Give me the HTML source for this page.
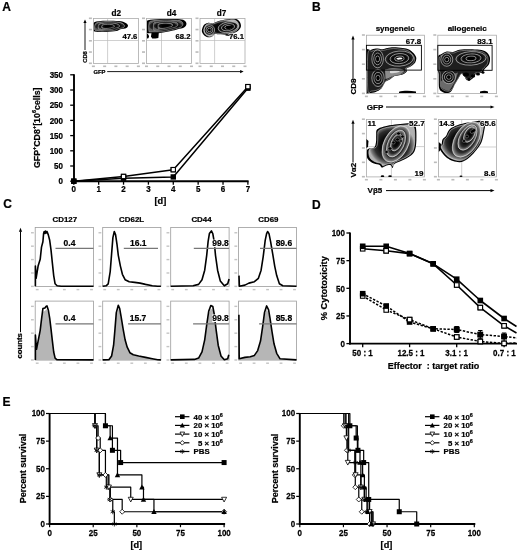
<!DOCTYPE html>
<html><head><meta charset="utf-8"><style>
html,body{margin:0;padding:0;background:#fff;width:520px;height:553px;overflow:hidden}
svg{display:block;filter:blur(0.35px)}
text{font-family:"Liberation Sans", sans-serif;stroke:#000;stroke-width:0.22px}
</style></head><body>
<svg width="520" height="553" viewBox="0 0 520 553" font-family='"Liberation Sans", sans-serif'>
<rect x="0" y="0" width="520" height="553" fill="#fff"/>
<text x="2.20" y="10.50" font-size="12" font-weight="bold" text-anchor="start" fill="#000">A</text>
<text x="312.00" y="10.90" font-size="12" font-weight="bold" text-anchor="start" fill="#000">B</text>
<text x="3.20" y="208.40" font-size="12" font-weight="bold" text-anchor="start" fill="#000">C</text>
<text x="312.00" y="208.50" font-size="12" font-weight="bold" text-anchor="start" fill="#000">D</text>
<text x="2.40" y="405.80" font-size="12" font-weight="bold" text-anchor="start" fill="#000">E</text>
<rect x="93.40" y="18.50" width="45.00" height="45.00" stroke="#ababab" stroke-width="0.8" fill="none"/>
<line x1="107.60" y1="18.50" x2="107.60" y2="63.50" stroke="#bcbcbc" stroke-width="0.7"/>
<line x1="93.40" y1="40.50" x2="138.40" y2="40.50" stroke="#bcbcbc" stroke-width="0.7"/>
<rect x="88.90" y="62.50" width="3" height="1.6" fill="#bbb"/>
<rect x="91.90" y="65.50" width="3" height="1.6" fill="#bbb"/>
<rect x="88.90" y="51.25" width="3" height="1.6" fill="#bbb"/>
<rect x="103.15" y="65.50" width="3" height="1.6" fill="#bbb"/>
<rect x="88.90" y="40.00" width="3" height="1.6" fill="#bbb"/>
<rect x="114.40" y="65.50" width="3" height="1.6" fill="#bbb"/>
<rect x="88.90" y="28.75" width="3" height="1.6" fill="#bbb"/>
<rect x="125.65" y="65.50" width="3" height="1.6" fill="#bbb"/>
<rect x="88.90" y="17.50" width="3" height="1.6" fill="#bbb"/>
<rect x="136.90" y="65.50" width="3" height="1.6" fill="#bbb"/>
<text x="116.20" y="15.50" font-size="8.2" font-weight="bold" text-anchor="middle" fill="#000">d2</text>
<rect x="146.50" y="18.50" width="45.00" height="45.00" stroke="#ababab" stroke-width="0.8" fill="none"/>
<line x1="161.50" y1="18.50" x2="161.50" y2="63.50" stroke="#bcbcbc" stroke-width="0.7"/>
<line x1="146.50" y1="40.50" x2="191.50" y2="40.50" stroke="#bcbcbc" stroke-width="0.7"/>
<rect x="142.00" y="62.50" width="3" height="1.6" fill="#bbb"/>
<rect x="145.00" y="65.50" width="3" height="1.6" fill="#bbb"/>
<rect x="142.00" y="51.25" width="3" height="1.6" fill="#bbb"/>
<rect x="156.25" y="65.50" width="3" height="1.6" fill="#bbb"/>
<rect x="142.00" y="40.00" width="3" height="1.6" fill="#bbb"/>
<rect x="167.50" y="65.50" width="3" height="1.6" fill="#bbb"/>
<rect x="142.00" y="28.75" width="3" height="1.6" fill="#bbb"/>
<rect x="178.75" y="65.50" width="3" height="1.6" fill="#bbb"/>
<rect x="142.00" y="17.50" width="3" height="1.6" fill="#bbb"/>
<rect x="190.00" y="65.50" width="3" height="1.6" fill="#bbb"/>
<text x="171.50" y="15.50" font-size="8.2" font-weight="bold" text-anchor="middle" fill="#000">d4</text>
<rect x="200.00" y="18.50" width="45.00" height="45.00" stroke="#ababab" stroke-width="0.8" fill="none"/>
<line x1="214.60" y1="18.50" x2="214.60" y2="63.50" stroke="#bcbcbc" stroke-width="0.7"/>
<line x1="200.00" y1="40.50" x2="245.00" y2="40.50" stroke="#bcbcbc" stroke-width="0.7"/>
<rect x="195.50" y="62.50" width="3" height="1.6" fill="#bbb"/>
<rect x="198.50" y="65.50" width="3" height="1.6" fill="#bbb"/>
<rect x="195.50" y="51.25" width="3" height="1.6" fill="#bbb"/>
<rect x="209.75" y="65.50" width="3" height="1.6" fill="#bbb"/>
<rect x="195.50" y="40.00" width="3" height="1.6" fill="#bbb"/>
<rect x="221.00" y="65.50" width="3" height="1.6" fill="#bbb"/>
<rect x="195.50" y="28.75" width="3" height="1.6" fill="#bbb"/>
<rect x="232.25" y="65.50" width="3" height="1.6" fill="#bbb"/>
<rect x="195.50" y="17.50" width="3" height="1.6" fill="#bbb"/>
<rect x="243.50" y="65.50" width="3" height="1.6" fill="#bbb"/>
<text x="221.50" y="15.50" font-size="8.2" font-weight="bold" text-anchor="middle" fill="#000">d7</text>
<defs>
<radialGradient id="ga" cx="0.5" cy="0.5" r="0.5"><stop offset="0" stop-color="#000"/><stop offset="0.75" stop-color="#0a0a0a"/><stop offset="0.92" stop-color="#262626"/><stop offset="1" stop-color="#5a5a5a"/></radialGradient>
<radialGradient id="gz" cx="0.5" cy="0.5" r="0.5"><stop offset="0" stop-color="#000"/><stop offset="0.5" stop-color="#0c0c0c"/><stop offset="0.75" stop-color="#2e2e2e"/><stop offset="0.92" stop-color="#7a7a7a"/><stop offset="1" stop-color="#b0b0b0"/></radialGradient>
<radialGradient id="gb" cx="0.5" cy="0.5" r="0.5"><stop offset="0" stop-color="#000"/><stop offset="0.6" stop-color="#0a0a0a"/><stop offset="0.85" stop-color="#2e2e2e"/><stop offset="1" stop-color="#8a8a8a"/></radialGradient>
<radialGradient id="gd" cx="0.5" cy="0.5" r="0.5"><stop offset="0" stop-color="#000"/><stop offset="0.7" stop-color="#0a0a0a"/><stop offset="0.9" stop-color="#444"/><stop offset="1" stop-color="#999"/></radialGradient>
<clipPath id="ca0"><rect x="93.80" y="18.9" width="44.2" height="44.2"/></clipPath>
<clipPath id="ca1"><rect x="146.90" y="18.9" width="44.2" height="44.2"/></clipPath>
<clipPath id="ca2"><rect x="200.40" y="18.9" width="44.2" height="44.2"/></clipPath>
<clipPath id="cb0"><rect x="366.8" y="35.6" width="57.3" height="57.7"/></clipPath>
<clipPath id="cb1"><rect x="438.2" y="35.6" width="57.9" height="57.7"/></clipPath>
<clipPath id="cb2"><rect x="366.8" y="119.8" width="57.3" height="56.8"/></clipPath>
<clipPath id="cb3"><rect x="438.8" y="119.8" width="57.3" height="56.8"/></clipPath>
</defs>
<path d="M92.50,25.20 C92.88,23.77 93.07,22.73 94.80,22.00 C96.53,21.27 99.77,21.00 102.90,20.80 C106.03,20.60 110.23,20.63 113.60,20.80 C116.97,20.97 120.73,21.10 123.10,21.80 C125.47,22.50 127.25,23.98 127.80,25.00 C128.35,26.02 127.63,27.20 126.40,27.90 C125.17,28.60 122.08,28.68 120.40,29.20 C118.72,29.72 118.55,30.55 116.30,31.00 C114.05,31.45 110.03,31.75 106.90,31.90 C103.77,32.05 99.90,32.12 97.50,31.90 C95.10,31.68 93.33,31.72 92.50,30.60 C91.67,29.48 92.12,26.63 92.50,25.20Z" fill="#000" clip-path="url(#ca0)"/>
<path d="M94.82,25.39 C95.14,24.19 95.30,23.32 96.75,22.70 C98.21,22.09 100.92,21.86 103.56,21.70 C106.19,21.53 109.72,21.56 112.54,21.70 C115.37,21.84 118.54,21.95 120.52,22.54 C122.51,23.12 124.01,24.37 124.47,25.22 C124.93,26.08 124.33,27.07 123.30,27.66 C122.26,28.25 119.67,28.32 118.26,28.75 C116.84,29.19 116.70,29.89 114.81,30.26 C112.92,30.64 109.55,30.89 106.92,31.02 C104.28,31.15 101.04,31.20 99.02,31.02 C97.00,30.84 95.52,30.87 94.82,29.93 C94.12,28.99 94.50,26.60 94.82,25.39Z" fill="url(#ga)" stroke="#c8c8c8" stroke-width="0.45" clip-path="url(#ca0)"/>
<path d="M98.30,25.68 C98.53,24.82 98.64,24.20 99.68,23.76 C100.72,23.32 102.66,23.16 104.54,23.04 C106.42,22.92 108.94,22.94 110.96,23.04 C112.98,23.14 115.24,23.22 116.66,23.64 C118.08,24.06 119.15,24.95 119.48,25.56 C119.81,26.17 119.38,26.88 118.64,27.30 C117.90,27.72 116.05,27.77 115.04,28.08 C114.03,28.39 113.93,28.89 112.58,29.16 C111.23,29.43 108.82,29.61 106.94,29.70 C105.06,29.79 102.74,29.83 101.30,29.70 C99.86,29.57 98.80,29.59 98.30,28.92 C97.80,28.25 98.07,26.54 98.30,25.68Z" fill="url(#ga)" stroke="#c8c8c8" stroke-width="0.45" clip-path="url(#ca0)"/>
<path d="M101.78,25.97 C101.92,25.45 101.98,25.08 102.61,24.82 C103.23,24.55 104.40,24.46 105.52,24.38 C106.65,24.31 108.16,24.32 109.38,24.38 C110.59,24.44 111.94,24.49 112.80,24.74 C113.65,25.00 114.29,25.53 114.49,25.90 C114.69,26.26 114.43,26.69 113.98,26.94 C113.54,27.19 112.43,27.22 111.82,27.41 C111.22,27.59 111.16,27.89 110.35,28.06 C109.54,28.22 108.09,28.33 106.96,28.38 C105.84,28.43 104.44,28.46 103.58,28.38 C102.72,28.30 102.08,28.31 101.78,27.91 C101.48,27.51 101.64,26.48 101.78,25.97Z" fill="url(#ga)" stroke="#c8c8c8" stroke-width="0.45" clip-path="url(#ca0)"/>
<path d="M104.65,26.21 C104.71,25.97 104.74,25.81 105.02,25.69 C105.30,25.57 105.83,25.53 106.34,25.49 C106.84,25.46 107.52,25.47 108.07,25.49 C108.61,25.52 109.22,25.54 109.61,25.65 C109.99,25.77 110.28,26.01 110.37,26.17 C110.46,26.34 110.34,26.53 110.14,26.64 C109.94,26.76 109.44,26.77 109.17,26.85 C108.90,26.94 108.87,27.07 108.51,27.15 C108.14,27.22 107.49,27.27 106.98,27.29 C106.48,27.32 105.85,27.33 105.46,27.29 C105.07,27.26 104.79,27.26 104.65,27.08 C104.52,26.90 104.59,26.44 104.65,26.21Z" fill="#000" clip-path="url(#ca0)"/>
<path d="M145.80,23.80 C146.18,21.87 145.70,21.10 148.10,20.30 C150.50,19.50 155.72,19.22 160.20,19.00 C164.68,18.78 171.18,18.87 175.00,19.00 C178.82,19.13 181.20,19.10 183.10,19.80 C185.00,20.50 186.18,21.97 186.40,23.20 C186.62,24.43 185.85,26.20 184.40,27.20 C182.95,28.20 179.93,28.57 177.70,29.20 C175.47,29.83 173.92,30.37 171.00,31.00 C168.08,31.63 164.02,32.63 160.20,33.00 C156.38,33.37 150.50,33.38 148.10,33.20 C145.70,33.02 146.18,33.47 145.80,31.90 C145.42,30.33 145.42,25.73 145.80,23.80Z" fill="#000" clip-path="url(#ca1)"/>
<path d="M148.87,24.12 C149.19,22.50 148.79,21.85 150.80,21.18 C152.82,20.51 157.20,20.27 160.97,20.09 C164.73,19.91 170.19,19.98 173.40,20.09 C176.61,20.20 178.61,20.17 180.20,20.76 C181.80,21.35 182.79,22.58 182.98,23.62 C183.16,24.65 182.51,26.14 181.30,26.98 C180.08,27.82 177.54,28.12 175.67,28.66 C173.79,29.19 172.49,29.64 170.04,30.17 C167.59,30.70 164.17,31.54 160.97,31.85 C157.76,32.16 152.82,32.17 150.80,32.02 C148.79,31.86 149.19,32.24 148.87,30.92 C148.55,29.61 148.55,25.74 148.87,24.12Z" fill="url(#ga)" stroke="#c8c8c8" stroke-width="0.45" clip-path="url(#ca1)"/>
<path d="M153.48,24.60 C153.71,23.44 153.42,22.98 154.86,22.50 C156.30,22.02 159.43,21.85 162.12,21.72 C164.81,21.59 168.71,21.64 171.00,21.72 C173.29,21.80 174.72,21.78 175.86,22.20 C177.00,22.62 177.71,23.50 177.84,24.24 C177.97,24.98 177.51,26.04 176.64,26.64 C175.77,27.24 173.96,27.46 172.62,27.84 C171.28,28.22 170.35,28.54 168.60,28.92 C166.85,29.30 164.41,29.90 162.12,30.12 C159.83,30.34 156.30,30.35 154.86,30.24 C153.42,30.13 153.71,30.40 153.48,29.46 C153.25,28.52 153.25,25.76 153.48,24.60Z" fill="url(#ga)" stroke="#c8c8c8" stroke-width="0.45" clip-path="url(#ca1)"/>
<path d="M158.09,25.08 C158.23,24.38 158.05,24.11 158.92,23.82 C159.78,23.53 161.66,23.43 163.27,23.35 C164.89,23.27 167.23,23.30 168.60,23.35 C169.97,23.40 170.83,23.39 171.52,23.64 C172.20,23.89 172.63,24.42 172.70,24.86 C172.78,25.31 172.51,25.94 171.98,26.30 C171.46,26.66 170.38,26.80 169.57,27.02 C168.77,27.25 168.21,27.44 167.16,27.67 C166.11,27.90 164.65,28.26 163.27,28.39 C161.90,28.52 159.78,28.53 158.92,28.46 C158.05,28.40 158.23,28.56 158.09,28.00 C157.95,27.43 157.95,25.78 158.09,25.08Z" fill="url(#ga)" stroke="#c8c8c8" stroke-width="0.45" clip-path="url(#ca1)"/>
<path d="M161.89,25.48 C161.95,25.16 161.87,25.04 162.26,24.91 C162.65,24.78 163.50,24.73 164.22,24.70 C164.95,24.66 166.00,24.68 166.62,24.70 C167.24,24.72 167.62,24.71 167.93,24.83 C168.24,24.94 168.43,25.18 168.47,25.38 C168.50,25.58 168.38,25.86 168.14,26.03 C167.91,26.19 167.42,26.25 167.06,26.35 C166.70,26.45 166.44,26.54 165.97,26.64 C165.50,26.75 164.84,26.91 164.22,26.97 C163.60,27.03 162.65,27.03 162.26,27.00 C161.87,26.97 161.95,27.04 161.89,26.79 C161.83,26.53 161.83,25.79 161.89,25.48Z" fill="#000" clip-path="url(#ca1)"/>
<path d="M151.6,32.5 L158.8,32.5 L158.4,38.0 L155.5,38.6 L152.2,38.6 L151.0,36.5 Z" fill="#000" clip-path="url(#ca1)"/>
<path d="M146.8,33.5 C148.8,34.5 149.6,36 148.4,38.2 L146.8,38.4 Z" fill="#000" clip-path="url(#ca1)"/>
<path d="M202.00,29.50 C202.28,28.23 202.93,26.10 203.90,25.00 C204.87,23.90 206.28,23.18 207.80,22.90 C209.32,22.62 211.42,23.52 213.00,23.30 C214.58,23.08 215.43,22.18 217.30,21.60 C219.17,21.02 222.03,20.23 224.20,19.80 C226.37,19.37 228.28,19.13 230.30,19.00 C232.32,18.87 234.72,18.50 236.30,19.00 C237.88,19.50 239.03,20.75 239.80,22.00 C240.57,23.25 241.18,25.03 240.90,26.50 C240.62,27.97 239.43,29.65 238.10,30.80 C236.77,31.95 234.92,32.77 232.90,33.40 C230.88,34.03 228.60,34.47 226.00,34.60 C223.40,34.73 219.18,34.32 217.30,34.20 C215.42,34.08 215.57,33.53 214.70,33.90 C213.83,34.27 213.25,35.83 212.10,36.40 C210.95,36.97 209.10,37.43 207.80,37.30 C206.50,37.17 205.23,36.38 204.30,35.60 C203.37,34.82 202.58,33.62 202.20,32.60 C201.82,31.58 201.72,30.77 202.00,29.50Z" fill="#000" clip-path="url(#ca2)"/>
<path d="M203.90,29.37 C204.16,28.23 204.74,26.31 205.61,25.32 C206.48,24.33 207.75,23.68 209.12,23.43 C210.49,23.18 212.38,23.98 213.80,23.79 C215.23,23.59 215.99,22.79 217.67,22.26 C219.35,21.74 221.93,21.03 223.88,20.64 C225.83,20.25 227.56,20.04 229.37,19.92 C231.19,19.80 233.34,19.47 234.77,19.92 C236.20,20.37 237.23,21.50 237.92,22.62 C238.61,23.75 239.16,25.35 238.91,26.67 C238.66,27.99 237.59,29.50 236.39,30.54 C235.19,31.57 233.53,32.31 231.71,32.88 C229.90,33.45 227.84,33.84 225.50,33.96 C223.16,34.08 219.37,33.70 217.67,33.60 C215.98,33.50 216.11,33.00 215.33,33.33 C214.55,33.66 214.03,35.07 212.99,35.58 C211.96,36.09 210.29,36.51 209.12,36.39 C207.95,36.27 206.81,35.56 205.97,34.86 C205.13,34.16 204.42,33.08 204.08,32.16 C203.73,31.25 203.65,30.51 203.90,29.37Z" fill="url(#gz)" stroke="#e6e6e6" stroke-width="0.5" clip-path="url(#ca2)"/>
<path d="M225.5,34.0 L234,35.0 L234,36.4 L225.5,35.6 Z" fill="#000"/>
<ellipse cx="209.40" cy="30.00" rx="5.20" ry="5.20" transform="rotate(0 209.40 30.00)" fill="url(#ga)" stroke="#e0e0e0" stroke-width="0.5" clip-path="url(#ca2)"/>
<ellipse cx="209.40" cy="30.00" rx="3.47" ry="3.47" transform="rotate(0 209.40 30.00)" fill="url(#ga)" stroke="#e0e0e0" stroke-width="0.5" clip-path="url(#ca2)"/>
<ellipse cx="209.40" cy="30.00" rx="1.73" ry="1.73" transform="rotate(0 209.40 30.00)" fill="url(#ga)" stroke="#e0e0e0" stroke-width="0.5" clip-path="url(#ca2)"/>
<ellipse cx="209.40" cy="30.00" rx="1.14" ry="1.14" transform="rotate(0 209.40 30.00)" fill="#000" stroke="none" stroke-width="0" clip-path="url(#ca2)"/>
<ellipse cx="228.00" cy="27.20" rx="10.00" ry="5.20" transform="rotate(-10 228.00 27.20)" fill="url(#ga)" stroke="#e0e0e0" stroke-width="0.5" clip-path="url(#ca2)"/>
<ellipse cx="228.00" cy="27.20" rx="6.67" ry="3.47" transform="rotate(-10 228.00 27.20)" fill="url(#ga)" stroke="#e0e0e0" stroke-width="0.5" clip-path="url(#ca2)"/>
<ellipse cx="228.00" cy="27.20" rx="3.33" ry="1.73" transform="rotate(-10 228.00 27.20)" fill="url(#ga)" stroke="#e0e0e0" stroke-width="0.5" clip-path="url(#ca2)"/>
<ellipse cx="228.00" cy="27.20" rx="2.20" ry="1.14" transform="rotate(-10 228.00 27.20)" fill="#000" stroke="none" stroke-width="0" clip-path="url(#ca2)"/>
<ellipse cx="229.00" cy="27.30" rx="3.20" ry="1.60" transform="rotate(-10 229.00 27.30)" fill="#000" stroke="none" stroke-width="0"/>
<text x="137.40" y="38.90" font-size="7.7" font-weight="bold" text-anchor="end" fill="#fff" style="stroke:#fff;stroke-width:1.2px;stroke-linejoin:round">47.6</text>
<text x="137.40" y="38.90" font-size="7.7" font-weight="bold" text-anchor="end" fill="#000">47.6</text>
<text x="190.50" y="38.90" font-size="7.7" font-weight="bold" text-anchor="end" fill="#fff" style="stroke:#fff;stroke-width:1.2px;stroke-linejoin:round">68.2</text>
<text x="190.50" y="38.90" font-size="7.7" font-weight="bold" text-anchor="end" fill="#000">68.2</text>
<text x="244.00" y="38.90" font-size="7.7" font-weight="bold" text-anchor="end" fill="#fff" style="stroke:#fff;stroke-width:1.2px;stroke-linejoin:round">76.1</text>
<text x="244.00" y="38.90" font-size="7.7" font-weight="bold" text-anchor="end" fill="#000">76.1</text>
<line x1="85.00" y1="50.00" x2="85.00" y2="22.50" stroke="#000" stroke-width="0.9"/>
<polygon points="85.00,19.50 83.40,23.00 86.60,23.00" fill="#000"/>
<text x="86.80" y="62.80" font-size="5.8" font-weight="bold" text-anchor="start" fill="#000" transform="rotate(-90 86.8 62.8)">CD8</text>
<text x="93.40" y="73.60" font-size="5.8" font-weight="bold" text-anchor="start" fill="#000">GFP</text>
<line x1="107.20" y1="71.60" x2="240.60" y2="71.60" stroke="#000" stroke-width="0.9"/>
<polygon points="243.60,71.60 240.10,70.00 240.10,73.20" fill="#000"/>
<line x1="74.0" y1="74.3" x2="74.0" y2="182.1" stroke="#000" stroke-width="1.9"/>
<line x1="70.20" y1="181.20" x2="74.00" y2="181.20" stroke="#000" stroke-width="1.3"/>
<text x="0" y="0" font-size="8.0" font-weight="bold" text-anchor="end" fill="#000" transform="translate(63.00 184.30) scale(1 1.12)">0</text>
<line x1="70.20" y1="166.00" x2="74.00" y2="166.00" stroke="#000" stroke-width="1.3"/>
<text x="0" y="0" font-size="8.0" font-weight="bold" text-anchor="end" fill="#000" transform="translate(63.00 169.10) scale(1 1.12)">50</text>
<line x1="70.20" y1="150.80" x2="74.00" y2="150.80" stroke="#000" stroke-width="1.3"/>
<text x="0" y="0" font-size="8.0" font-weight="bold" text-anchor="end" fill="#000" transform="translate(63.00 153.90) scale(1 1.12)">100</text>
<line x1="70.20" y1="135.60" x2="74.00" y2="135.60" stroke="#000" stroke-width="1.3"/>
<text x="0" y="0" font-size="8.0" font-weight="bold" text-anchor="end" fill="#000" transform="translate(63.00 138.70) scale(1 1.12)">150</text>
<line x1="70.20" y1="120.40" x2="74.00" y2="120.40" stroke="#000" stroke-width="1.3"/>
<text x="0" y="0" font-size="8.0" font-weight="bold" text-anchor="end" fill="#000" transform="translate(63.00 123.50) scale(1 1.12)">200</text>
<line x1="70.20" y1="105.20" x2="74.00" y2="105.20" stroke="#000" stroke-width="1.3"/>
<text x="0" y="0" font-size="8.0" font-weight="bold" text-anchor="end" fill="#000" transform="translate(63.00 108.30) scale(1 1.12)">250</text>
<line x1="70.20" y1="90.00" x2="74.00" y2="90.00" stroke="#000" stroke-width="1.3"/>
<text x="0" y="0" font-size="8.0" font-weight="bold" text-anchor="end" fill="#000" transform="translate(63.00 93.10) scale(1 1.12)">300</text>
<line x1="70.20" y1="74.80" x2="74.00" y2="74.80" stroke="#000" stroke-width="1.3"/>
<text x="0" y="0" font-size="8.0" font-weight="bold" text-anchor="end" fill="#000" transform="translate(63.00 77.90) scale(1 1.12)">350</text>
<line x1="73.10" y1="181.20" x2="248.60" y2="181.20" stroke="#000" stroke-width="1.9"/>
<line x1="73.80" y1="181.20" x2="73.80" y2="184.70" stroke="#000" stroke-width="1.3"/>
<text x="0" y="0" font-size="8.0" font-weight="bold" text-anchor="middle" fill="#000" transform="translate(73.80 192.00) scale(1 1.12)">0</text>
<line x1="98.67" y1="181.20" x2="98.67" y2="184.70" stroke="#000" stroke-width="1.3"/>
<text x="0" y="0" font-size="8.0" font-weight="bold" text-anchor="middle" fill="#000" transform="translate(98.67 192.00) scale(1 1.12)">1</text>
<line x1="123.54" y1="181.20" x2="123.54" y2="184.70" stroke="#000" stroke-width="1.3"/>
<text x="0" y="0" font-size="8.0" font-weight="bold" text-anchor="middle" fill="#000" transform="translate(123.54 192.00) scale(1 1.12)">2</text>
<line x1="148.41" y1="181.20" x2="148.41" y2="184.70" stroke="#000" stroke-width="1.3"/>
<text x="0" y="0" font-size="8.0" font-weight="bold" text-anchor="middle" fill="#000" transform="translate(148.41 192.00) scale(1 1.12)">3</text>
<line x1="173.28" y1="181.20" x2="173.28" y2="184.70" stroke="#000" stroke-width="1.3"/>
<text x="0" y="0" font-size="8.0" font-weight="bold" text-anchor="middle" fill="#000" transform="translate(173.28 192.00) scale(1 1.12)">4</text>
<line x1="198.15" y1="181.20" x2="198.15" y2="184.70" stroke="#000" stroke-width="1.3"/>
<text x="0" y="0" font-size="8.0" font-weight="bold" text-anchor="middle" fill="#000" transform="translate(198.15 192.00) scale(1 1.12)">5</text>
<line x1="223.02" y1="181.20" x2="223.02" y2="184.70" stroke="#000" stroke-width="1.3"/>
<text x="0" y="0" font-size="8.0" font-weight="bold" text-anchor="middle" fill="#000" transform="translate(223.02 192.00) scale(1 1.12)">6</text>
<line x1="247.89" y1="181.20" x2="247.89" y2="184.70" stroke="#000" stroke-width="1.3"/>
<text x="0" y="0" font-size="8.0" font-weight="bold" text-anchor="middle" fill="#000" transform="translate(247.89 192.00) scale(1 1.12)">7</text>
<text x="160.40" y="204.00" font-size="9.2" font-weight="bold" text-anchor="middle" fill="#000">[d]</text>
<text x="39.90" y="127.80" font-size="8.8" font-weight="bold" text-anchor="middle" fill="#000" transform="rotate(-90 39.9 127.8)">GFP<tspan dy="-3.9" font-size="5.6">+</tspan><tspan dy="3.9">CD8</tspan><tspan dy="-3.9" font-size="5.6">+</tspan><tspan dy="3.9">[10</tspan><tspan dy="-3.9" font-size="5.6">6</tspan><tspan dy="3.9">cells]</tspan></text>
<polyline points="73.80,181.20 123.54,178.16 173.28,176.94 247.89,88.18" stroke="#000" stroke-width="1.5" fill="none" stroke-linejoin="round"/>
<polyline points="73.80,181.20 123.54,176.49 173.28,169.65 247.89,86.66" stroke="#000" stroke-width="1.5" fill="none" stroke-linejoin="round"/>
<rect x="71.65" y="179.05" width="4.30" height="4.30" fill="#fff" stroke="#000" stroke-width="1.1"/>
<rect x="121.39" y="174.34" width="4.30" height="4.30" fill="#fff" stroke="#000" stroke-width="1.1"/>
<rect x="171.13" y="167.50" width="4.30" height="4.30" fill="#fff" stroke="#000" stroke-width="1.1"/>
<rect x="245.74" y="84.51" width="4.30" height="4.30" fill="#fff" stroke="#000" stroke-width="1.1"/>
<rect x="71.10" y="178.50" width="5.40" height="5.40" fill="#000"/>
<rect x="120.84" y="175.46" width="5.40" height="5.40" fill="#000"/>
<rect x="170.58" y="174.24" width="5.40" height="5.40" fill="#000"/>
<rect x="245.19" y="85.48" width="5.40" height="5.40" fill="#000"/>
<rect x="121.39" y="174.34" width="4.30" height="4.30" fill="#fff" stroke="#000" stroke-width="1.1"/>
<rect x="171.13" y="167.50" width="4.30" height="4.30" fill="#fff" stroke="#000" stroke-width="1.1"/>
<rect x="245.74" y="84.51" width="4.30" height="4.30" fill="#fff" stroke="#000" stroke-width="1.1"/>
<text x="395.20" y="30.60" font-size="8.0" font-weight="bold" text-anchor="middle" fill="#000">syngeneic</text>
<text x="467.20" y="30.60" font-size="8.0" font-weight="bold" text-anchor="middle" fill="#000">allogeneic</text>
<rect x="366.40" y="35.20" width="58.00" height="58.40" stroke="#ababab" stroke-width="0.8" fill="none"/>
<rect x="361.90" y="92.60" width="3" height="1.6" fill="#bbb"/>
<rect x="364.90" y="95.60" width="3" height="1.6" fill="#bbb"/>
<rect x="361.90" y="78.00" width="3" height="1.6" fill="#bbb"/>
<rect x="379.40" y="95.60" width="3" height="1.6" fill="#bbb"/>
<rect x="361.90" y="63.40" width="3" height="1.6" fill="#bbb"/>
<rect x="393.90" y="95.60" width="3" height="1.6" fill="#bbb"/>
<rect x="361.90" y="48.80" width="3" height="1.6" fill="#bbb"/>
<rect x="408.40" y="95.60" width="3" height="1.6" fill="#bbb"/>
<rect x="361.90" y="34.20" width="3" height="1.6" fill="#bbb"/>
<rect x="422.90" y="95.60" width="3" height="1.6" fill="#bbb"/>
<rect x="437.80" y="35.20" width="58.60" height="58.40" stroke="#ababab" stroke-width="0.8" fill="none"/>
<rect x="433.30" y="92.60" width="3" height="1.6" fill="#bbb"/>
<rect x="436.30" y="95.60" width="3" height="1.6" fill="#bbb"/>
<rect x="433.30" y="78.00" width="3" height="1.6" fill="#bbb"/>
<rect x="450.95" y="95.60" width="3" height="1.6" fill="#bbb"/>
<rect x="433.30" y="63.40" width="3" height="1.6" fill="#bbb"/>
<rect x="465.60" y="95.60" width="3" height="1.6" fill="#bbb"/>
<rect x="433.30" y="48.80" width="3" height="1.6" fill="#bbb"/>
<rect x="480.25" y="95.60" width="3" height="1.6" fill="#bbb"/>
<rect x="433.30" y="34.20" width="3" height="1.6" fill="#bbb"/>
<rect x="494.90" y="95.60" width="3" height="1.6" fill="#bbb"/>
<rect x="366.40" y="119.40" width="58.00" height="57.50" stroke="#ababab" stroke-width="0.8" fill="none"/>
<line x1="391.40" y1="119.40" x2="391.40" y2="176.90" stroke="#bcbcbc" stroke-width="0.7"/>
<line x1="366.40" y1="146.60" x2="424.40" y2="146.60" stroke="#bcbcbc" stroke-width="0.7"/>
<rect x="361.90" y="175.90" width="3" height="1.6" fill="#bbb"/>
<rect x="364.90" y="178.90" width="3" height="1.6" fill="#bbb"/>
<rect x="361.90" y="161.53" width="3" height="1.6" fill="#bbb"/>
<rect x="379.40" y="178.90" width="3" height="1.6" fill="#bbb"/>
<rect x="361.90" y="147.15" width="3" height="1.6" fill="#bbb"/>
<rect x="393.90" y="178.90" width="3" height="1.6" fill="#bbb"/>
<rect x="361.90" y="132.78" width="3" height="1.6" fill="#bbb"/>
<rect x="408.40" y="178.90" width="3" height="1.6" fill="#bbb"/>
<rect x="361.90" y="118.40" width="3" height="1.6" fill="#bbb"/>
<rect x="422.90" y="178.90" width="3" height="1.6" fill="#bbb"/>
<rect x="438.40" y="119.40" width="58.00" height="57.50" stroke="#ababab" stroke-width="0.8" fill="none"/>
<line x1="461.70" y1="119.40" x2="461.70" y2="176.90" stroke="#bcbcbc" stroke-width="0.7"/>
<line x1="438.40" y1="147.00" x2="496.40" y2="147.00" stroke="#bcbcbc" stroke-width="0.7"/>
<rect x="433.90" y="175.90" width="3" height="1.6" fill="#bbb"/>
<rect x="436.90" y="178.90" width="3" height="1.6" fill="#bbb"/>
<rect x="433.90" y="161.53" width="3" height="1.6" fill="#bbb"/>
<rect x="451.40" y="178.90" width="3" height="1.6" fill="#bbb"/>
<rect x="433.90" y="147.15" width="3" height="1.6" fill="#bbb"/>
<rect x="465.90" y="178.90" width="3" height="1.6" fill="#bbb"/>
<rect x="433.90" y="132.78" width="3" height="1.6" fill="#bbb"/>
<rect x="480.40" y="178.90" width="3" height="1.6" fill="#bbb"/>
<rect x="433.90" y="118.40" width="3" height="1.6" fill="#bbb"/>
<rect x="494.90" y="178.90" width="3" height="1.6" fill="#bbb"/>
<path d="M366.00,53.00 C366.75,46.00 368.83,50.73 370.50,50.00 C372.17,49.27 374.03,48.73 376.00,48.60 C377.97,48.47 380.40,49.30 382.30,49.20 C384.20,49.10 385.50,48.33 387.40,48.00 C389.30,47.67 391.17,47.20 393.70,47.20 C396.23,47.20 400.05,47.63 402.60,48.00 C405.15,48.37 407.23,48.60 409.00,49.40 C410.77,50.20 412.00,51.47 413.20,52.80 C414.40,54.13 415.87,55.78 416.20,57.40 C416.53,59.02 416.07,61.02 415.20,62.50 C414.33,63.98 412.45,65.30 411.00,66.30 C409.55,67.30 407.20,67.63 406.50,68.50 C405.80,69.37 407.45,70.48 406.80,71.50 C406.15,72.52 404.05,73.93 402.60,74.60 C401.15,75.27 399.58,75.18 398.10,75.50 C396.62,75.82 395.07,75.83 393.70,76.50 C392.33,77.17 391.22,78.67 389.90,79.50 C388.58,80.33 386.90,80.53 385.80,81.50 C384.70,82.47 384.13,84.03 383.30,85.30 C382.47,86.57 382.07,87.98 380.80,89.10 C379.53,90.22 377.57,91.35 375.70,92.00 C373.83,92.65 371.22,93.00 369.60,93.00 C367.98,93.00 366.60,98.67 366.00,92.00 C365.40,85.33 365.25,60.00 366.00,53.00Z" fill="#000" clip-path="url(#cb0)"/>
<path d="M367.82,53.91 C368.52,47.40 370.45,51.80 372.00,51.12 C373.56,50.44 375.29,49.94 377.12,49.82 C378.95,49.69 381.21,50.47 382.98,50.38 C384.75,50.28 385.95,49.57 387.72,49.26 C389.49,48.95 391.23,48.52 393.58,48.52 C395.94,48.52 399.49,48.92 401.86,49.26 C404.23,49.60 406.17,49.82 407.81,50.56 C409.45,51.31 410.60,52.48 411.72,53.72 C412.83,54.96 414.20,56.50 414.51,58.00 C414.82,59.51 414.38,61.37 413.58,62.74 C412.77,64.12 411.02,65.35 409.67,66.28 C408.32,67.21 406.14,67.52 405.49,68.33 C404.83,69.13 406.37,70.17 405.76,71.11 C405.16,72.06 403.21,73.38 401.86,74.00 C400.51,74.62 399.05,74.54 397.67,74.84 C396.29,75.13 394.85,75.14 393.58,75.77 C392.31,76.39 391.27,77.78 390.05,78.56 C388.82,79.33 387.26,79.52 386.23,80.42 C385.21,81.31 384.68,82.77 383.91,83.95 C383.13,85.13 382.76,86.44 381.58,87.48 C380.41,88.52 378.58,89.58 376.84,90.18 C375.11,90.78 372.67,91.11 371.17,91.11 C369.66,91.11 368.38,96.38 367.82,90.18 C367.26,83.98 367.12,60.42 367.82,53.91Z" fill="#1e1e1e" stroke="#ddd" stroke-width="0.45" clip-path="url(#cb0)"/>
<path d="M385,69.5 C392,67.5 401,68 404.5,70.5 C403,73 400,74.8 395,75.2 C391,76.5 388.5,78.5 385.5,79 Z" fill="#8c8c8c" clip-path="url(#cb0)"/>
<path d="M390,71 C394,70 398,70.5 400,71.5 C397,73 393,73.5 390,73 Z" fill="#d8d8d8"/>
<ellipse cx="399.40" cy="58.60" rx="14.20" ry="7.60" transform="rotate(-4 399.40 58.60)" fill="url(#ga)" stroke="#e0e0e0" stroke-width="0.5" clip-path="url(#cb0)"/>
<ellipse cx="399.40" cy="58.60" rx="9.47" ry="5.07" transform="rotate(-4 399.40 58.60)" fill="url(#ga)" stroke="#e0e0e0" stroke-width="0.5" clip-path="url(#cb0)"/>
<ellipse cx="399.40" cy="58.60" rx="4.73" ry="2.53" transform="rotate(-4 399.40 58.60)" fill="url(#ga)" stroke="#e0e0e0" stroke-width="0.5" clip-path="url(#cb0)"/>
<ellipse cx="399.40" cy="58.60" rx="3.12" ry="1.67" transform="rotate(-4 399.40 58.60)" fill="#000" stroke="none" stroke-width="0" clip-path="url(#cb0)"/>
<ellipse cx="399.40" cy="58.60" rx="3.12" ry="1.00" transform="rotate(-4 399.40 58.60)" fill="#fff" stroke="none" stroke-width="0" clip-path="url(#cb0)"/>
<ellipse cx="377.60" cy="58.90" rx="5.80" ry="9.00" transform="rotate(0 377.60 58.90)" fill="url(#ga)" stroke="#e0e0e0" stroke-width="0.5" clip-path="url(#cb0)"/>
<ellipse cx="377.60" cy="58.90" rx="3.87" ry="6.00" transform="rotate(0 377.60 58.90)" fill="url(#ga)" stroke="#e0e0e0" stroke-width="0.5" clip-path="url(#cb0)"/>
<ellipse cx="377.60" cy="58.90" rx="1.93" ry="3.00" transform="rotate(0 377.60 58.90)" fill="url(#ga)" stroke="#e0e0e0" stroke-width="0.5" clip-path="url(#cb0)"/>
<ellipse cx="377.60" cy="58.90" rx="1.28" ry="1.98" transform="rotate(0 377.60 58.90)" fill="#000" stroke="none" stroke-width="0" clip-path="url(#cb0)"/>
<ellipse cx="378.00" cy="78.00" rx="6.20" ry="8.60" transform="rotate(0 378.00 78.00)" fill="url(#ga)" stroke="#e0e0e0" stroke-width="0.5" clip-path="url(#cb0)"/>
<ellipse cx="378.00" cy="78.00" rx="4.13" ry="5.73" transform="rotate(0 378.00 78.00)" fill="url(#ga)" stroke="#e0e0e0" stroke-width="0.5" clip-path="url(#cb0)"/>
<ellipse cx="378.00" cy="78.00" rx="2.07" ry="2.87" transform="rotate(0 378.00 78.00)" fill="url(#ga)" stroke="#e0e0e0" stroke-width="0.5" clip-path="url(#cb0)"/>
<ellipse cx="378.00" cy="78.00" rx="1.36" ry="1.89" transform="rotate(0 378.00 78.00)" fill="#000" stroke="none" stroke-width="0" clip-path="url(#cb0)"/>
<path d="M399,91.8 C403,90.6 410,90.6 416,91.6 L416,93 L399,93 Z" fill="#000"/>
<rect x="366.40" y="45.30" width="55.00" height="24.80" stroke="#000" stroke-width="0.9" fill="none"/>
<text x="421.20" y="43.80" font-size="7.9" font-weight="bold" text-anchor="end" fill="#000">67.8</text>
<path d="M437.50,57.40 C438.18,54.73 440.07,54.97 441.60,54.00 C443.13,53.03 444.80,51.93 446.70,51.60 C448.60,51.27 450.88,52.30 453.00,52.00 C455.12,51.70 456.65,50.27 459.40,49.80 C462.15,49.33 466.12,49.20 469.50,49.20 C472.88,49.20 476.95,49.37 479.70,49.80 C482.45,50.23 484.32,50.60 486.00,51.80 C487.68,53.00 489.27,55.02 489.80,57.00 C490.33,58.98 490.03,61.73 489.20,63.70 C488.37,65.67 485.97,67.32 484.80,68.80 C483.63,70.28 483.68,71.75 482.20,72.60 C480.72,73.45 477.58,72.83 475.90,73.90 C474.22,74.97 473.58,77.95 472.10,79.00 C470.62,80.05 468.27,80.63 467.00,80.20 C465.73,79.77 465.45,77.43 464.50,76.40 C463.55,75.37 462.37,73.57 461.30,74.00 C460.23,74.43 459.27,77.12 458.10,79.00 C456.93,80.88 455.35,83.40 454.30,85.30 C453.25,87.20 452.85,89.12 451.80,90.40 C450.75,91.68 449.48,92.70 448.00,93.00 C446.52,93.30 444.38,93.03 442.90,92.20 C441.42,91.37 439.82,91.03 439.10,88.00 C438.38,84.97 438.87,77.00 438.60,74.00 C438.33,71.00 437.68,72.77 437.50,70.00 C437.32,67.23 436.82,60.07 437.50,57.40Z" fill="#000" clip-path="url(#cb1)"/>
<path d="M439.21,58.00 C439.85,55.52 441.60,55.74 443.03,54.84 C444.45,53.94 446.00,52.92 447.77,52.61 C449.54,52.30 451.66,53.26 453.63,52.98 C455.60,52.70 457.02,51.37 459.58,50.93 C462.14,50.50 465.83,50.38 468.98,50.38 C472.12,50.38 475.90,50.53 478.46,50.93 C481.02,51.34 482.75,51.68 484.32,52.79 C485.89,53.91 487.36,55.79 487.85,57.63 C488.35,59.47 488.07,62.03 487.30,63.86 C486.52,65.69 484.29,67.22 483.20,68.60 C482.12,69.98 482.17,71.35 480.79,72.14 C479.41,72.93 476.49,72.36 474.93,73.35 C473.36,74.34 472.77,77.11 471.39,78.09 C470.01,79.07 467.83,79.61 466.65,79.21 C465.47,78.80 465.21,76.63 464.32,75.67 C463.44,74.71 462.34,73.04 461.35,73.44 C460.36,73.84 459.46,76.34 458.37,78.09 C457.29,79.84 455.82,82.18 454.84,83.95 C453.86,85.72 453.49,87.50 452.51,88.69 C451.54,89.89 450.36,90.83 448.98,91.11 C447.60,91.39 445.62,91.14 444.24,90.37 C442.86,89.59 441.37,89.28 440.70,86.46 C440.04,83.64 440.49,76.23 440.24,73.44 C439.99,70.65 439.39,72.29 439.21,69.72 C439.04,67.15 438.58,60.48 439.21,58.00Z" fill="#1e1e1e" stroke="#ddd" stroke-width="0.45" clip-path="url(#cb1)"/>
<path d="M440,82 C445,78 452,74 458,72.5 C456,80 453,86 449,91 C445,90.5 441.5,88.5 440,86 Z" fill="#6a6a6a" clip-path="url(#cb1)"/>
<ellipse cx="471.00" cy="58.40" rx="15.20" ry="6.80" transform="rotate(-3 471.00 58.40)" fill="url(#ga)" stroke="#e0e0e0" stroke-width="0.5" clip-path="url(#cb1)"/>
<ellipse cx="471.00" cy="58.40" rx="10.13" ry="4.53" transform="rotate(-3 471.00 58.40)" fill="url(#ga)" stroke="#e0e0e0" stroke-width="0.5" clip-path="url(#cb1)"/>
<ellipse cx="471.00" cy="58.40" rx="5.07" ry="2.27" transform="rotate(-3 471.00 58.40)" fill="url(#ga)" stroke="#e0e0e0" stroke-width="0.5" clip-path="url(#cb1)"/>
<ellipse cx="471.00" cy="58.40" rx="3.34" ry="1.50" transform="rotate(-3 471.00 58.40)" fill="#000" stroke="none" stroke-width="0" clip-path="url(#cb1)"/>
<ellipse cx="446.80" cy="59.60" rx="6.00" ry="6.70" transform="rotate(0 446.80 59.60)" fill="url(#ga)" stroke="#e0e0e0" stroke-width="0.5" clip-path="url(#cb1)"/>
<ellipse cx="446.80" cy="59.60" rx="4.00" ry="4.47" transform="rotate(0 446.80 59.60)" fill="url(#ga)" stroke="#e0e0e0" stroke-width="0.5" clip-path="url(#cb1)"/>
<ellipse cx="446.80" cy="59.60" rx="2.00" ry="2.23" transform="rotate(0 446.80 59.60)" fill="url(#ga)" stroke="#e0e0e0" stroke-width="0.5" clip-path="url(#cb1)"/>
<ellipse cx="446.80" cy="59.60" rx="1.32" ry="1.47" transform="rotate(0 446.80 59.60)" fill="#000" stroke="none" stroke-width="0" clip-path="url(#cb1)"/>
<ellipse cx="448.80" cy="77.10" rx="6.60" ry="6.60" transform="rotate(0 448.80 77.10)" fill="url(#ga)" stroke="#e0e0e0" stroke-width="0.5" clip-path="url(#cb1)"/>
<ellipse cx="448.80" cy="77.10" rx="4.40" ry="4.40" transform="rotate(0 448.80 77.10)" fill="url(#ga)" stroke="#e0e0e0" stroke-width="0.5" clip-path="url(#cb1)"/>
<ellipse cx="448.80" cy="77.10" rx="2.20" ry="2.20" transform="rotate(0 448.80 77.10)" fill="url(#ga)" stroke="#e0e0e0" stroke-width="0.5" clip-path="url(#cb1)"/>
<ellipse cx="448.80" cy="77.10" rx="1.45" ry="1.45" transform="rotate(0 448.80 77.10)" fill="#000" stroke="none" stroke-width="0" clip-path="url(#cb1)"/>
<ellipse cx="466.00" cy="74.50" rx="3.00" ry="2.00" transform="rotate(0 466.00 74.50)" fill="#000" stroke="none" stroke-width="0"/>
<ellipse cx="473.00" cy="76.00" rx="2.20" ry="1.80" transform="rotate(0 473.00 76.00)" fill="#000" stroke="none" stroke-width="0"/>
<ellipse cx="469.00" cy="79.50" rx="1.60" ry="1.40" transform="rotate(0 469.00 79.50)" fill="#000" stroke="none" stroke-width="0"/>
<ellipse cx="478.00" cy="74.00" rx="2.00" ry="1.60" transform="rotate(0 478.00 74.00)" fill="#000" stroke="none" stroke-width="0"/>
<ellipse cx="483.00" cy="72.50" rx="1.50" ry="1.20" transform="rotate(0 483.00 72.50)" fill="#000" stroke="none" stroke-width="0"/>
<path d="M480,91.6 C483,90.6 486,90.6 488,91.6 L488,93 L480,93 Z" fill="#000"/>
<rect x="437.80" y="45.30" width="54.30" height="25.00" stroke="#000" stroke-width="0.9" fill="none"/>
<text x="492.60" y="43.80" font-size="7.9" font-weight="bold" text-anchor="end" fill="#000">83.1</text>
<path d="M377.00,129.50 C378.30,128.07 381.00,127.25 384.00,126.40 C387.00,125.55 391.50,124.90 395.00,124.40 C398.50,123.90 402.17,123.60 405.00,123.40 C407.83,123.20 410.20,122.60 412.00,123.20 C413.80,123.80 415.07,124.20 415.80,127.00 C416.53,129.80 416.53,136.17 416.40,140.00 C416.27,143.83 415.90,147.42 415.00,150.00 C414.10,152.58 413.17,153.73 411.00,155.50 C408.83,157.27 404.75,159.18 402.00,160.60 C399.25,162.02 396.07,162.77 394.50,164.00 C392.93,165.23 393.25,167.80 392.60,168.00 C391.95,168.20 391.78,165.53 390.60,165.20 C389.42,164.87 386.97,165.60 385.50,166.00 C384.03,166.40 382.78,167.77 381.80,167.60 C380.82,167.43 380.90,165.68 379.60,165.00 C378.30,164.32 375.77,164.25 374.00,163.50 C372.23,162.75 370.20,161.67 369.00,160.50 C367.80,159.33 367.20,158.08 366.80,156.50 C366.40,154.92 366.23,152.32 366.60,151.00 C366.97,149.68 367.73,149.17 369.00,148.60 C370.27,148.03 373.03,148.70 374.20,147.60 C375.37,146.50 375.67,144.10 376.00,142.00 C376.33,139.90 376.03,137.08 376.20,135.00 C376.37,132.92 375.70,130.93 377.00,129.50Z" fill="#000" clip-path="url(#cb2)"/>
<path d="M378.52,130.74 C379.72,129.42 382.20,128.67 384.96,127.89 C387.72,127.11 391.86,126.51 395.08,126.05 C398.30,125.59 401.67,125.31 404.28,125.13 C406.89,124.94 409.06,124.39 410.72,124.94 C412.38,125.50 413.54,125.86 414.22,128.44 C414.89,131.02 414.89,136.87 414.77,140.40 C414.65,143.93 414.31,147.22 413.48,149.60 C412.65,151.98 411.79,153.03 409.80,154.66 C407.81,156.29 404.05,158.05 401.52,159.35 C398.99,160.66 396.06,161.35 394.62,162.48 C393.18,163.61 393.47,165.98 392.87,166.16 C392.27,166.34 392.12,163.89 391.03,163.58 C389.94,163.28 387.69,163.95 386.34,164.32 C384.99,164.69 383.84,165.95 382.94,165.79 C382.03,165.64 382.11,164.03 380.91,163.40 C379.72,162.77 377.39,162.71 375.76,162.02 C374.13,161.33 372.26,160.33 371.16,159.26 C370.06,158.19 369.50,157.04 369.14,155.58 C368.77,154.12 368.61,151.73 368.95,150.52 C369.29,149.31 369.99,148.83 371.16,148.31 C372.33,147.79 374.87,148.40 375.94,147.39 C377.02,146.38 377.29,144.17 377.60,142.24 C377.91,140.31 377.63,137.72 377.78,135.80 C377.94,133.88 377.32,132.06 378.52,130.74Z" fill="url(#gz)" stroke="#e8e8e8" stroke-width="0.5" clip-path="url(#cb2)"/>
<ellipse cx="396.00" cy="144.00" rx="19.50" ry="12.00" transform="rotate(-62 396.00 144.00)" fill="url(#gz)" stroke="#eee" stroke-width="0.5" clip-path="url(#cb2)"/>
<ellipse cx="396.00" cy="143.50" rx="14.50" ry="8.00" transform="rotate(-64 396.00 143.50)" fill="url(#gz)" stroke="#eee" stroke-width="0.5" clip-path="url(#cb2)"/>
<ellipse cx="396.50" cy="142.50" rx="9.00" ry="5.00" transform="rotate(-64 396.50 142.50)" fill="url(#gz)" stroke="#eee" stroke-width="0.5" clip-path="url(#cb2)"/>
<ellipse cx="398.50" cy="133.50" rx="2.00" ry="1.60" transform="rotate(0 398.50 133.50)" fill="#000" stroke="#bbb" stroke-width="0.4"/>
<ellipse cx="402.50" cy="136.50" rx="1.70" ry="1.50" transform="rotate(0 402.50 136.50)" fill="#000" stroke="#bbb" stroke-width="0.4"/>
<ellipse cx="397.50" cy="139.50" rx="2.00" ry="1.60" transform="rotate(0 397.50 139.50)" fill="#000" stroke="#bbb" stroke-width="0.4"/>
<ellipse cx="393.50" cy="142.50" rx="1.70" ry="1.50" transform="rotate(0 393.50 142.50)" fill="#000" stroke="#bbb" stroke-width="0.4"/>
<ellipse cx="390.00" cy="148.50" rx="2.00" ry="1.60" transform="rotate(0 390.00 148.50)" fill="#000" stroke="#bbb" stroke-width="0.4"/>
<ellipse cx="386.50" cy="152.00" rx="1.80" ry="1.40" transform="rotate(0 386.50 152.00)" fill="#000" stroke="#bbb" stroke-width="0.4"/>
<ellipse cx="401.00" cy="141.00" rx="1.50" ry="1.30" transform="rotate(0 401.00 141.00)" fill="#000" stroke="#bbb" stroke-width="0.4"/>
<path d="M366.4,139 L368.5,141 L368,147 L366.4,148 Z" fill="#000"/>
<ellipse cx="382.5" cy="176.2" rx="1.8" ry="0.9" fill="#000"/>
<ellipse cx="390.0" cy="176.2" rx="1.8" ry="0.9" fill="#000"/>
<text x="367.60" y="125.60" font-size="8.0" font-weight="bold" text-anchor="start" fill="#fff" style="stroke:#fff;stroke-width:1.6px;stroke-linejoin:round">11</text>
<text x="367.60" y="125.60" font-size="8.0" font-weight="bold" text-anchor="start" fill="#000">11</text>
<text x="424.60" y="125.60" font-size="8.0" font-weight="bold" text-anchor="end" fill="#fff" style="stroke:#fff;stroke-width:1.6px;stroke-linejoin:round">52.7</text>
<text x="424.60" y="125.60" font-size="8.0" font-weight="bold" text-anchor="end" fill="#000">52.7</text>
<text x="423.40" y="175.80" font-size="8.0" font-weight="bold" text-anchor="end" fill="#fff" style="stroke:#fff;stroke-width:1.6px;stroke-linejoin:round">19</text>
<text x="423.40" y="175.80" font-size="8.0" font-weight="bold" text-anchor="end" fill="#000">19</text>
<path d="M449.00,130.00 C450.50,128.33 452.33,127.17 455.00,126.00 C457.67,124.83 461.67,123.77 465.00,123.00 C468.33,122.23 472.33,121.73 475.00,121.40 C477.67,121.07 479.33,120.57 481.00,121.00 C482.67,121.43 484.50,122.17 485.00,124.00 C485.50,125.83 484.50,129.17 484.00,132.00 C483.50,134.83 483.00,138.33 482.00,141.00 C481.00,143.67 479.67,145.67 478.00,148.00 C476.33,150.33 474.00,153.00 472.00,155.00 C470.00,157.00 468.00,158.80 466.00,160.00 C464.00,161.20 462.17,162.03 460.00,162.20 C457.83,162.37 455.17,161.70 453.00,161.00 C450.83,160.30 448.67,159.17 447.00,158.00 C445.33,156.83 444.17,155.42 443.00,154.00 C441.83,152.58 440.73,150.67 440.00,149.50 C439.27,148.33 438.35,147.83 438.60,147.00 C438.85,146.17 440.85,145.75 441.50,144.50 C442.15,143.25 441.75,140.92 442.50,139.50 C443.25,138.08 444.92,137.58 446.00,136.00 C447.08,134.42 447.50,131.67 449.00,130.00Z" fill="#000" clip-path="url(#cb3)"/>
<path d="M450.12,130.96 C451.50,129.43 453.19,128.35 455.64,127.28 C458.09,126.21 461.77,125.23 464.84,124.52 C467.91,123.81 471.59,123.35 474.04,123.05 C476.49,122.74 478.03,122.28 479.56,122.68 C481.09,123.08 482.78,123.75 483.24,125.44 C483.70,127.13 482.78,130.19 482.32,132.80 C481.86,135.41 481.40,138.63 480.48,141.08 C479.56,143.53 478.33,145.37 476.80,147.52 C475.27,149.67 473.12,152.12 471.28,153.96 C469.44,155.80 467.60,157.46 465.76,158.56 C463.92,159.66 462.23,160.43 460.24,160.58 C458.25,160.74 455.79,160.12 453.80,159.48 C451.81,158.84 449.81,157.79 448.28,156.72 C446.75,155.65 445.67,154.34 444.60,153.04 C443.53,151.74 442.51,149.97 441.84,148.90 C441.17,147.83 440.32,147.37 440.55,146.60 C440.78,145.83 442.62,145.45 443.22,144.30 C443.82,143.15 443.45,141.00 444.14,139.70 C444.83,138.40 446.36,137.94 447.36,136.48 C448.36,135.02 448.74,132.49 450.12,130.96Z" fill="url(#gz)" stroke="#e8e8e8" stroke-width="0.5" clip-path="url(#cb3)"/>
<ellipse cx="466.50" cy="139.50" rx="19.50" ry="11.50" transform="rotate(-58 466.50 139.50)" fill="url(#gz)" stroke="#eee" stroke-width="0.5" clip-path="url(#cb3)"/>
<ellipse cx="467.50" cy="137.50" rx="14.00" ry="7.60" transform="rotate(-60 467.50 137.50)" fill="url(#gz)" stroke="#eee" stroke-width="0.5" clip-path="url(#cb3)"/>
<ellipse cx="469.50" cy="134.50" rx="8.50" ry="4.80" transform="rotate(-60 469.50 134.50)" fill="url(#gz)" stroke="#eee" stroke-width="0.5" clip-path="url(#cb3)"/>
<ellipse cx="473.00" cy="131.00" rx="3.20" ry="1.80" transform="rotate(-35 473.00 131.00)" fill="#000" stroke="#bbb" stroke-width="0.4"/>
<ellipse cx="467.00" cy="136.50" rx="1.60" ry="1.50" transform="rotate(0 467.00 136.50)" fill="#000" stroke="#bbb" stroke-width="0.4"/>
<ellipse cx="464.00" cy="141.00" rx="1.80" ry="1.40" transform="rotate(0 464.00 141.00)" fill="#000" stroke="#bbb" stroke-width="0.4"/>
<path d="M438.8,142 L441,144 L440.5,150 L438.8,152 Z" fill="#000"/>
<ellipse cx="461" cy="176.3" rx="1.5" ry="0.8" fill="#000"/>
<text x="438.90" y="125.60" font-size="8.0" font-weight="bold" text-anchor="start" fill="#fff" style="stroke:#fff;stroke-width:1.6px;stroke-linejoin:round">14.3</text>
<text x="438.90" y="125.60" font-size="8.0" font-weight="bold" text-anchor="start" fill="#000">14.3</text>
<text x="495.60" y="125.80" font-size="8.0" font-weight="bold" text-anchor="end" fill="#fff" style="stroke:#fff;stroke-width:1.6px;stroke-linejoin:round">65.6</text>
<text x="495.60" y="125.80" font-size="8.0" font-weight="bold" text-anchor="end" fill="#000">65.6</text>
<text x="495.20" y="175.80" font-size="8.0" font-weight="bold" text-anchor="end" fill="#fff" style="stroke:#fff;stroke-width:1.6px;stroke-linejoin:round">8.6</text>
<text x="495.20" y="175.80" font-size="8.0" font-weight="bold" text-anchor="end" fill="#000">8.6</text>
<line x1="353.00" y1="80.00" x2="353.00" y2="39.00" stroke="#000" stroke-width="1.0"/>
<polygon points="353.00,35.50 351.40,39.50 354.60,39.50" fill="#000"/>
<text x="356.00" y="94.50" font-size="8.0" font-weight="bold" text-anchor="start" fill="#000" transform="rotate(-90 356.0 94.5)">CD8</text>
<text x="366.80" y="109.70" font-size="8.0" font-weight="bold" text-anchor="start" fill="#000">GFP</text>
<line x1="386.00" y1="107.00" x2="491.00" y2="107.00" stroke="#000" stroke-width="1.0"/>
<polygon points="494.50,107.00 490.50,105.40 490.50,108.60" fill="#000"/>
<line x1="353.00" y1="162.50" x2="353.00" y2="123.30" stroke="#000" stroke-width="1.0"/>
<polygon points="353.00,119.80 351.40,123.80 354.60,123.80" fill="#000"/>
<text x="356.00" y="177.60" font-size="8.0" font-weight="bold" text-anchor="start" fill="#000" transform="rotate(-90 356.0 177.6)">V&#945;2</text>
<text x="367.60" y="193.40" font-size="8.0" font-weight="bold" text-anchor="start" fill="#000">V&#946;5</text>
<line x1="386.00" y1="190.60" x2="491.00" y2="190.60" stroke="#000" stroke-width="1.0"/>
<polygon points="494.50,190.60 490.50,189.00 490.50,192.20" fill="#000"/>
<text x="64.80" y="222.00" font-size="7.9" font-weight="bold" text-anchor="middle" fill="#000">CD127</text>
<text x="131.60" y="222.00" font-size="7.9" font-weight="bold" text-anchor="middle" fill="#000">CD62L</text>
<text x="201.50" y="222.00" font-size="7.9" font-weight="bold" text-anchor="middle" fill="#000">CD44</text>
<text x="268.40" y="222.00" font-size="7.9" font-weight="bold" text-anchor="middle" fill="#000">CD69</text>
<rect x="35.20" y="227.50" width="58.30" height="59.00" stroke="#9c9c9c" stroke-width="0.8" fill="none"/>
<rect x="31.00" y="285.70" width="2.8" height="1.4" fill="#c4c4c4"/>
<rect x="31.00" y="272.29" width="2.8" height="1.4" fill="#c4c4c4"/>
<rect x="31.00" y="258.88" width="2.8" height="1.4" fill="#c4c4c4"/>
<rect x="31.00" y="245.47" width="2.8" height="1.4" fill="#c4c4c4"/>
<rect x="31.00" y="232.06" width="2.8" height="1.4" fill="#c4c4c4"/>
<rect x="35.80" y="288.90" width="2.8" height="1.4" fill="#c4c4c4"/>
<rect x="49.38" y="288.90" width="2.8" height="1.4" fill="#c4c4c4"/>
<rect x="62.95" y="288.90" width="2.8" height="1.4" fill="#c4c4c4"/>
<rect x="76.52" y="288.90" width="2.8" height="1.4" fill="#c4c4c4"/>
<rect x="90.10" y="288.90" width="2.8" height="1.4" fill="#c4c4c4"/>
<rect x="35.20" y="301.10" width="58.30" height="59.00" stroke="#9c9c9c" stroke-width="0.8" fill="none"/>
<rect x="31.00" y="359.30" width="2.8" height="1.4" fill="#c4c4c4"/>
<rect x="31.00" y="345.89" width="2.8" height="1.4" fill="#c4c4c4"/>
<rect x="31.00" y="332.48" width="2.8" height="1.4" fill="#c4c4c4"/>
<rect x="31.00" y="319.07" width="2.8" height="1.4" fill="#c4c4c4"/>
<rect x="31.00" y="305.66" width="2.8" height="1.4" fill="#c4c4c4"/>
<rect x="35.80" y="362.50" width="2.8" height="1.4" fill="#c4c4c4"/>
<rect x="49.38" y="362.50" width="2.8" height="1.4" fill="#c4c4c4"/>
<rect x="62.95" y="362.50" width="2.8" height="1.4" fill="#c4c4c4"/>
<rect x="76.52" y="362.50" width="2.8" height="1.4" fill="#c4c4c4"/>
<rect x="90.10" y="362.50" width="2.8" height="1.4" fill="#c4c4c4"/>
<rect x="102.70" y="227.50" width="58.20" height="59.00" stroke="#9c9c9c" stroke-width="0.8" fill="none"/>
<rect x="98.50" y="285.70" width="2.8" height="1.4" fill="#c4c4c4"/>
<rect x="98.50" y="272.29" width="2.8" height="1.4" fill="#c4c4c4"/>
<rect x="98.50" y="258.88" width="2.8" height="1.4" fill="#c4c4c4"/>
<rect x="98.50" y="245.47" width="2.8" height="1.4" fill="#c4c4c4"/>
<rect x="98.50" y="232.06" width="2.8" height="1.4" fill="#c4c4c4"/>
<rect x="103.30" y="288.90" width="2.8" height="1.4" fill="#c4c4c4"/>
<rect x="116.85" y="288.90" width="2.8" height="1.4" fill="#c4c4c4"/>
<rect x="130.40" y="288.90" width="2.8" height="1.4" fill="#c4c4c4"/>
<rect x="143.95" y="288.90" width="2.8" height="1.4" fill="#c4c4c4"/>
<rect x="157.50" y="288.90" width="2.8" height="1.4" fill="#c4c4c4"/>
<rect x="102.70" y="301.10" width="58.20" height="59.00" stroke="#9c9c9c" stroke-width="0.8" fill="none"/>
<rect x="98.50" y="359.30" width="2.8" height="1.4" fill="#c4c4c4"/>
<rect x="98.50" y="345.89" width="2.8" height="1.4" fill="#c4c4c4"/>
<rect x="98.50" y="332.48" width="2.8" height="1.4" fill="#c4c4c4"/>
<rect x="98.50" y="319.07" width="2.8" height="1.4" fill="#c4c4c4"/>
<rect x="98.50" y="305.66" width="2.8" height="1.4" fill="#c4c4c4"/>
<rect x="103.30" y="362.50" width="2.8" height="1.4" fill="#c4c4c4"/>
<rect x="116.85" y="362.50" width="2.8" height="1.4" fill="#c4c4c4"/>
<rect x="130.40" y="362.50" width="2.8" height="1.4" fill="#c4c4c4"/>
<rect x="143.95" y="362.50" width="2.8" height="1.4" fill="#c4c4c4"/>
<rect x="157.50" y="362.50" width="2.8" height="1.4" fill="#c4c4c4"/>
<rect x="170.70" y="227.50" width="58.40" height="59.00" stroke="#9c9c9c" stroke-width="0.8" fill="none"/>
<rect x="166.50" y="285.70" width="2.8" height="1.4" fill="#c4c4c4"/>
<rect x="166.50" y="272.29" width="2.8" height="1.4" fill="#c4c4c4"/>
<rect x="166.50" y="258.88" width="2.8" height="1.4" fill="#c4c4c4"/>
<rect x="166.50" y="245.47" width="2.8" height="1.4" fill="#c4c4c4"/>
<rect x="166.50" y="232.06" width="2.8" height="1.4" fill="#c4c4c4"/>
<rect x="171.30" y="288.90" width="2.8" height="1.4" fill="#c4c4c4"/>
<rect x="184.90" y="288.90" width="2.8" height="1.4" fill="#c4c4c4"/>
<rect x="198.50" y="288.90" width="2.8" height="1.4" fill="#c4c4c4"/>
<rect x="212.10" y="288.90" width="2.8" height="1.4" fill="#c4c4c4"/>
<rect x="225.70" y="288.90" width="2.8" height="1.4" fill="#c4c4c4"/>
<rect x="170.70" y="301.10" width="58.40" height="59.00" stroke="#9c9c9c" stroke-width="0.8" fill="none"/>
<rect x="166.50" y="359.30" width="2.8" height="1.4" fill="#c4c4c4"/>
<rect x="166.50" y="345.89" width="2.8" height="1.4" fill="#c4c4c4"/>
<rect x="166.50" y="332.48" width="2.8" height="1.4" fill="#c4c4c4"/>
<rect x="166.50" y="319.07" width="2.8" height="1.4" fill="#c4c4c4"/>
<rect x="166.50" y="305.66" width="2.8" height="1.4" fill="#c4c4c4"/>
<rect x="171.30" y="362.50" width="2.8" height="1.4" fill="#c4c4c4"/>
<rect x="184.90" y="362.50" width="2.8" height="1.4" fill="#c4c4c4"/>
<rect x="198.50" y="362.50" width="2.8" height="1.4" fill="#c4c4c4"/>
<rect x="212.10" y="362.50" width="2.8" height="1.4" fill="#c4c4c4"/>
<rect x="225.70" y="362.50" width="2.8" height="1.4" fill="#c4c4c4"/>
<rect x="238.60" y="227.50" width="57.90" height="59.00" stroke="#9c9c9c" stroke-width="0.8" fill="none"/>
<rect x="234.40" y="285.70" width="2.8" height="1.4" fill="#c4c4c4"/>
<rect x="234.40" y="272.29" width="2.8" height="1.4" fill="#c4c4c4"/>
<rect x="234.40" y="258.88" width="2.8" height="1.4" fill="#c4c4c4"/>
<rect x="234.40" y="245.47" width="2.8" height="1.4" fill="#c4c4c4"/>
<rect x="234.40" y="232.06" width="2.8" height="1.4" fill="#c4c4c4"/>
<rect x="239.20" y="288.90" width="2.8" height="1.4" fill="#c4c4c4"/>
<rect x="252.67" y="288.90" width="2.8" height="1.4" fill="#c4c4c4"/>
<rect x="266.15" y="288.90" width="2.8" height="1.4" fill="#c4c4c4"/>
<rect x="279.62" y="288.90" width="2.8" height="1.4" fill="#c4c4c4"/>
<rect x="293.10" y="288.90" width="2.8" height="1.4" fill="#c4c4c4"/>
<rect x="238.60" y="301.10" width="57.90" height="59.00" stroke="#9c9c9c" stroke-width="0.8" fill="none"/>
<rect x="234.40" y="359.30" width="2.8" height="1.4" fill="#c4c4c4"/>
<rect x="234.40" y="345.89" width="2.8" height="1.4" fill="#c4c4c4"/>
<rect x="234.40" y="332.48" width="2.8" height="1.4" fill="#c4c4c4"/>
<rect x="234.40" y="319.07" width="2.8" height="1.4" fill="#c4c4c4"/>
<rect x="234.40" y="305.66" width="2.8" height="1.4" fill="#c4c4c4"/>
<rect x="239.20" y="362.50" width="2.8" height="1.4" fill="#c4c4c4"/>
<rect x="252.67" y="362.50" width="2.8" height="1.4" fill="#c4c4c4"/>
<rect x="266.15" y="362.50" width="2.8" height="1.4" fill="#c4c4c4"/>
<rect x="279.62" y="362.50" width="2.8" height="1.4" fill="#c4c4c4"/>
<rect x="293.10" y="362.50" width="2.8" height="1.4" fill="#c4c4c4"/>
<path d="M35.40,359.90 L35.40,336.49 L36.50,349.94 L38.10,342.23 L40.20,332.08 L41.50,321.83 L42.90,311.68 L44.90,311.02 L46.00,309.70 L47.00,309.14 L48.30,312.90 L49.70,320.61 L51.00,330.76 L52.40,342.23 L53.70,352.47 L55.10,358.21 L57.10,359.81 L93.50,359.90 L93.50,359.90Z" fill="#b6b6b6"/>
<path d="M108.90,359.90 L108.90,359.81 L111.60,356.23 L113.60,346.08 L115.00,330.76 L116.30,315.44 L118.30,308.48 L119.70,311.68 L121.10,319.29 L123.10,330.76 L125.10,341.01 L127.20,347.96 L129.90,353.13 L133.30,355.01 L138.70,356.23 L145.50,357.55 L152.30,358.87 L157.70,359.81 L160.90,359.90 L160.90,359.90Z" fill="#b6b6b6"/>
<path d="M194.50,359.90 L194.50,359.43 L198.60,358.21 L202.00,352.38 L204.70,341.01 L206.70,326.91 L208.70,314.22 L210.80,308.86 L212.80,309.70 L214.20,316.75 L216.20,332.08 L218.20,346.08 L221.00,356.23 L224.30,359.81 L227.70,358.87 L228.80,355.01 L228.80,359.90Z" fill="#b6b6b6"/>
<path d="M239.20,359.90 L239.20,358.87 L244.90,357.55 L250.30,356.89 L254.40,355.67 L257.70,351.16 L260.50,342.23 L262.50,329.54 L264.50,315.44 L266.60,309.14 L268.60,312.90 L270.00,320.61 L272.00,333.30 L274.00,344.77 L276.70,353.70 L280.10,358.87 L296.50,359.90 L296.50,359.90Z" fill="#b6b6b6"/>
<polyline points="35.40,286.30 35.40,266.10 36.10,278.30 38.10,266.10 40.20,259.30 41.50,247.10 42.90,241.70 43.60,233.50 44.20,231.50 45.00,233.50 45.60,231.00 46.30,233.00 47.00,231.50 48.30,234.90 49.70,240.30 51.00,249.80 52.40,263.40 53.70,275.60 55.10,283.80 57.10,285.80 61.20,286.30 93.50,286.30" stroke="#000" stroke-width="1.6" fill="none" stroke-linejoin="round"/>
<polyline points="102.70,286.30 106.10,285.80 108.20,283.80 110.20,271.60 111.60,253.90 112.90,237.60 114.30,231.50 115.60,234.90 117.00,244.40 118.30,255.30 120.40,266.10 122.40,274.30 125.10,279.70 129.20,281.70 134.60,282.40 140.10,283.10 145.50,284.40 152.30,285.80 157.70,286.30 160.90,286.30" stroke="#000" stroke-width="1.6" fill="none" stroke-linejoin="round"/>
<polyline points="170.70,286.30 193.10,285.80 198.60,284.40 202.00,279.70 204.70,270.20 206.70,255.30 208.10,241.70 209.40,233.60 211.40,230.90 212.80,233.60 214.20,241.70 215.50,255.30 217.60,270.20 220.30,281.00 224.30,285.80 227.70,283.80 229.10,279.00" stroke="#000" stroke-width="1.6" fill="none" stroke-linejoin="round"/>
<polyline points="239.00,275.60 239.40,286.20 244.90,285.10 248.90,283.10 254.40,281.70 258.40,278.30 261.10,270.20 263.20,256.60 265.20,240.30 266.60,233.60 267.60,231.50 269.00,233.60 270.60,241.70 272.70,253.90 274.70,266.10 276.70,275.60 279.40,283.80 282.80,285.80 296.50,286.30" stroke="#000" stroke-width="1.6" fill="none" stroke-linejoin="round"/>
<polyline points="35.40,359.90 35.40,335.00 36.50,349.30 38.10,341.10 40.20,330.30 41.50,319.40 42.90,308.60 44.90,307.90 46.00,306.50 47.00,305.90 48.30,309.90 49.70,318.10 51.00,328.90 52.40,341.10 53.70,352.00 55.10,358.10 57.10,359.80 93.50,359.90" stroke="#000" stroke-width="1.6" fill="none" stroke-linejoin="round"/>
<polyline points="102.70,359.90 108.90,359.80 111.60,356.00 113.60,345.20 115.00,328.90 116.30,312.60 118.30,305.20 119.70,308.60 121.10,316.70 123.10,328.90 125.10,339.80 127.20,347.20 129.90,352.70 133.30,354.70 138.70,356.00 145.50,357.40 152.30,358.80 157.70,359.80 160.90,359.90" stroke="#000" stroke-width="1.6" fill="none" stroke-linejoin="round"/>
<polyline points="170.70,359.90 194.50,359.40 198.60,358.10 202.00,351.90 204.70,339.80 206.70,324.80 208.70,311.30 210.80,305.60 212.80,306.50 214.20,314.00 216.20,330.30 218.20,345.20 221.00,356.00 224.30,359.80 227.70,358.80 228.80,354.70" stroke="#000" stroke-width="1.6" fill="none" stroke-linejoin="round"/>
<polyline points="238.90,314.70 239.20,358.80 244.90,357.40 250.30,356.70 254.40,355.40 257.70,350.60 260.50,341.10 262.50,327.60 264.50,312.60 266.60,305.90 268.60,309.90 270.00,318.10 272.00,331.60 274.00,343.80 276.70,353.30 280.10,358.80 296.50,359.90" stroke="#000" stroke-width="1.6" fill="none" stroke-linejoin="round"/>
<line x1="55.50" y1="248.30" x2="93.50" y2="248.30" stroke="#777" stroke-width="1.2"/>
<text x="75.40" y="246.20" font-size="8.5" font-weight="bold" text-anchor="end" fill="#000">0.4</text>
<line x1="123.80" y1="248.30" x2="158.00" y2="248.30" stroke="#777" stroke-width="1.2"/>
<text x="146.60" y="246.20" font-size="8.5" font-weight="bold" text-anchor="end" fill="#000">16.1</text>
<line x1="193.80" y1="248.30" x2="229.10" y2="248.30" stroke="#777" stroke-width="1.2"/>
<rect x="212.20" y="239.6" width="16.4" height="7.6" fill="#fff"/>
<text x="228.80" y="246.20" font-size="8.5" font-weight="bold" text-anchor="end" fill="#000">99.8</text>
<line x1="260.00" y1="248.30" x2="296.50" y2="248.30" stroke="#777" stroke-width="1.2"/>
<text x="292.20" y="246.20" font-size="8.5" font-weight="bold" text-anchor="end" fill="#000">89.6</text>
<line x1="55.50" y1="323.80" x2="93.50" y2="323.80" stroke="#777" stroke-width="1.2"/>
<text x="75.40" y="321.10" font-size="8.5" font-weight="bold" text-anchor="end" fill="#000">0.4</text>
<line x1="128.10" y1="323.80" x2="160.90" y2="323.80" stroke="#777" stroke-width="1.2"/>
<text x="146.30" y="321.10" font-size="8.5" font-weight="bold" text-anchor="end" fill="#000">15.7</text>
<line x1="193.10" y1="323.80" x2="229.10" y2="323.80" stroke="#777" stroke-width="1.2"/>
<rect x="212.20" y="314.5" width="16.4" height="7.6" fill="#fff"/>
<text x="228.80" y="321.10" font-size="8.5" font-weight="bold" text-anchor="end" fill="#000">99.8</text>
<line x1="259.10" y1="323.80" x2="296.50" y2="323.80" stroke="#777" stroke-width="1.2"/>
<text x="292.20" y="321.10" font-size="8.5" font-weight="bold" text-anchor="end" fill="#000">85.8</text>
<line x1="20.50" y1="332.20" x2="20.50" y2="231.30" stroke="#000" stroke-width="1.0"/>
<polygon points="20.50,227.80 18.90,231.80 22.10,231.80" fill="#000"/>
<text x="22.40" y="358.60" font-size="7.8" font-weight="bold" text-anchor="start" fill="#000" transform="rotate(-90 22.4 358.6)">counts</text>
<line x1="350.00" y1="232.60" x2="350.00" y2="344.50" stroke="#000" stroke-width="1.9"/>
<line x1="346.40" y1="343.60" x2="350.00" y2="343.60" stroke="#000" stroke-width="1.3"/>
<text x="0" y="0" font-size="8.0" font-weight="bold" text-anchor="end" fill="#000" transform="translate(345.00 346.80) scale(1 1.16)">0</text>
<line x1="346.40" y1="315.95" x2="350.00" y2="315.95" stroke="#000" stroke-width="1.3"/>
<text x="0" y="0" font-size="8.0" font-weight="bold" text-anchor="end" fill="#000" transform="translate(345.00 319.15) scale(1 1.16)">25</text>
<line x1="346.40" y1="288.30" x2="350.00" y2="288.30" stroke="#000" stroke-width="1.3"/>
<text x="0" y="0" font-size="8.0" font-weight="bold" text-anchor="end" fill="#000" transform="translate(345.00 291.50) scale(1 1.16)">50</text>
<line x1="346.40" y1="260.65" x2="350.00" y2="260.65" stroke="#000" stroke-width="1.3"/>
<text x="0" y="0" font-size="8.0" font-weight="bold" text-anchor="end" fill="#000" transform="translate(345.00 263.85) scale(1 1.16)">75</text>
<line x1="346.40" y1="233.00" x2="350.00" y2="233.00" stroke="#000" stroke-width="1.3"/>
<text x="0" y="0" font-size="8.0" font-weight="bold" text-anchor="end" fill="#000" transform="translate(345.00 236.20) scale(1 1.16)">100</text>
<line x1="349.10" y1="343.60" x2="517.00" y2="343.60" stroke="#000" stroke-width="1.9"/>
<line x1="362.70" y1="343.60" x2="362.70" y2="347.20" stroke="#000" stroke-width="1.3"/>
<line x1="409.60" y1="343.60" x2="409.60" y2="347.20" stroke="#000" stroke-width="1.3"/>
<line x1="456.70" y1="343.60" x2="456.70" y2="347.20" stroke="#000" stroke-width="1.3"/>
<line x1="504.10" y1="343.60" x2="504.10" y2="347.20" stroke="#000" stroke-width="1.3"/>
<text x="0" y="0" font-size="8.0" font-weight="bold" text-anchor="middle" fill="#000" transform="translate(362.50 355.90) scale(1 1.18)">50 : 1</text>
<text x="0" y="0" font-size="8.0" font-weight="bold" text-anchor="middle" fill="#000" transform="translate(411.00 355.90) scale(1 1.18)">12.5 : 1</text>
<text x="0" y="0" font-size="8.0" font-weight="bold" text-anchor="middle" fill="#000" transform="translate(456.60 355.90) scale(1 1.18)">3.1 : 1</text>
<text x="0" y="0" font-size="8.0" font-weight="bold" text-anchor="middle" fill="#000" transform="translate(504.40 355.90) scale(1 1.18)">0.7 : 1</text>
<text x="433.50" y="369.40" font-size="9.0" font-weight="bold" text-anchor="middle" fill="#000">Effector &#160;: target ratio</text>
<text x="327.50" y="288.20" font-size="9.3" font-weight="bold" text-anchor="middle" fill="#000" transform="rotate(-90 327.5 288.2)">% Cytotoxicity</text>
<polyline points="362.70,246.30 386.20,246.30 409.60,253.60 433.20,263.80 456.70,279.20 480.30,300.50 504.10,318.50 516.50,326.50" stroke="#000" stroke-width="1.6" fill="none" stroke-linejoin="round"/>
<polyline points="362.70,248.80 386.20,250.80 409.60,253.60 433.20,263.80 456.70,285.00 480.30,307.60 504.10,325.80 516.50,333.00" stroke="#000" stroke-width="1.6" fill="none" stroke-linejoin="round"/>
<polyline points="362.70,293.70 386.20,306.00 409.60,322.00 433.20,328.80 456.70,329.50 480.30,334.60 504.10,336.50 517.00,338.00" stroke="#000" stroke-width="1.5" fill="none" stroke-linejoin="round" stroke-dasharray="2.4,1.5"/>
<polyline points="362.70,296.00 386.20,310.00 409.60,319.60 433.20,328.80 456.70,337.00 480.30,341.50 504.10,343.40 517.00,343.00" stroke="#000" stroke-width="1.5" fill="none" stroke-linejoin="round" stroke-dasharray="2.4,1.5"/>
<rect x="360.45" y="246.55" width="4.50" height="4.50" fill="#fff" stroke="#000" stroke-width="1.1"/>
<rect x="383.95" y="248.55" width="4.50" height="4.50" fill="#fff" stroke="#000" stroke-width="1.1"/>
<rect x="407.35" y="251.35" width="4.50" height="4.50" fill="#fff" stroke="#000" stroke-width="1.1"/>
<rect x="430.95" y="261.55" width="4.50" height="4.50" fill="#fff" stroke="#000" stroke-width="1.1"/>
<rect x="454.45" y="282.75" width="4.50" height="4.50" fill="#fff" stroke="#000" stroke-width="1.1"/>
<rect x="478.05" y="305.35" width="4.50" height="4.50" fill="#fff" stroke="#000" stroke-width="1.1"/>
<rect x="501.85" y="323.55" width="4.50" height="4.50" fill="#fff" stroke="#000" stroke-width="1.1"/>
<rect x="359.90" y="243.50" width="5.60" height="5.60" fill="#000"/>
<rect x="383.40" y="243.50" width="5.60" height="5.60" fill="#000"/>
<rect x="406.80" y="250.80" width="5.60" height="5.60" fill="#000"/>
<rect x="430.40" y="261.00" width="5.60" height="5.60" fill="#000"/>
<rect x="453.90" y="276.40" width="5.60" height="5.60" fill="#000"/>
<rect x="477.50" y="297.70" width="5.60" height="5.60" fill="#000"/>
<rect x="501.30" y="315.70" width="5.60" height="5.60" fill="#000"/>
<rect x="360.45" y="293.75" width="4.50" height="4.50" fill="#fff" stroke="#000" stroke-width="1.1"/>
<rect x="383.95" y="307.75" width="4.50" height="4.50" fill="#fff" stroke="#000" stroke-width="1.1"/>
<rect x="407.35" y="317.35" width="4.50" height="4.50" fill="#fff" stroke="#000" stroke-width="1.1"/>
<rect x="430.95" y="326.55" width="4.50" height="4.50" fill="#fff" stroke="#000" stroke-width="1.1"/>
<rect x="454.45" y="334.75" width="4.50" height="4.50" fill="#fff" stroke="#000" stroke-width="1.1"/>
<rect x="478.05" y="339.25" width="4.50" height="4.50" fill="#fff" stroke="#000" stroke-width="1.1"/>
<rect x="501.85" y="341.15" width="4.50" height="4.50" fill="#fff" stroke="#000" stroke-width="1.1"/>
<rect x="359.90" y="290.90" width="5.60" height="5.60" fill="#000"/>
<rect x="383.40" y="303.20" width="5.60" height="5.60" fill="#000"/>
<rect x="406.80" y="319.20" width="5.60" height="5.60" fill="#000"/>
<rect x="430.40" y="326.00" width="5.60" height="5.60" fill="#000"/>
<rect x="453.90" y="326.70" width="5.60" height="5.60" fill="#000"/>
<rect x="477.50" y="331.80" width="5.60" height="5.60" fill="#000"/>
<rect x="501.30" y="333.70" width="5.60" height="5.60" fill="#000"/>
<line x1="480.30" y1="330.50" x2="480.30" y2="338.80" stroke="#000" stroke-width="1.2"/>
<line x1="478.10" y1="330.50" x2="482.50" y2="330.50" stroke="#000" stroke-width="1.0"/>
<line x1="478.10" y1="338.80" x2="482.50" y2="338.80" stroke="#000" stroke-width="1.0"/>
<rect x="477.50" y="331.80" width="5.60" height="5.60" fill="#000"/>
<line x1="504.10" y1="333.00" x2="504.10" y2="345.50" stroke="#000" stroke-width="1.2"/>
<line x1="501.90" y1="333.00" x2="506.30" y2="333.00" stroke="#000" stroke-width="1.0"/>
<line x1="501.90" y1="345.50" x2="506.30" y2="345.50" stroke="#000" stroke-width="1.0"/>
<rect x="501.30" y="333.70" width="5.60" height="5.60" fill="#000"/>
<line x1="456.70" y1="326.50" x2="456.70" y2="332.50" stroke="#000" stroke-width="1.2"/>
<line x1="454.50" y1="326.50" x2="458.90" y2="326.50" stroke="#000" stroke-width="1.0"/>
<line x1="454.50" y1="332.50" x2="458.90" y2="332.50" stroke="#000" stroke-width="1.0"/>
<rect x="453.90" y="326.70" width="5.60" height="5.60" fill="#000"/>
<rect x="383.95" y="248.55" width="4.50" height="4.50" fill="#fff" stroke="#000" stroke-width="1.1"/>
<rect x="454.45" y="282.75" width="4.50" height="4.50" fill="#fff" stroke="#000" stroke-width="1.1"/>
<rect x="478.05" y="305.35" width="4.50" height="4.50" fill="#fff" stroke="#000" stroke-width="1.1"/>
<rect x="501.85" y="323.55" width="4.50" height="4.50" fill="#fff" stroke="#000" stroke-width="1.1"/>
<rect x="407.35" y="317.35" width="4.50" height="4.50" fill="#fff" stroke="#000" stroke-width="1.1"/>
<rect x="454.45" y="334.75" width="4.50" height="4.50" fill="#fff" stroke="#000" stroke-width="1.1"/>
<rect x="478.05" y="339.25" width="4.50" height="4.50" fill="#fff" stroke="#000" stroke-width="1.1"/>
<rect x="501.85" y="341.15" width="4.50" height="4.50" fill="#fff" stroke="#000" stroke-width="1.1"/>
<line x1="49.60" y1="413.00" x2="49.60" y2="524.90" stroke="#000" stroke-width="1.9"/>
<line x1="46.00" y1="524.00" x2="49.60" y2="524.00" stroke="#000" stroke-width="1.2"/>
<text x="0" y="0" font-size="8.0" font-weight="bold" text-anchor="end" fill="#000" transform="translate(45.00 526.90) scale(1 1.16)">0</text>
<line x1="46.00" y1="496.38" x2="49.60" y2="496.38" stroke="#000" stroke-width="1.2"/>
<text x="0" y="0" font-size="8.0" font-weight="bold" text-anchor="end" fill="#000" transform="translate(45.00 499.27) scale(1 1.16)">25</text>
<line x1="46.00" y1="468.75" x2="49.60" y2="468.75" stroke="#000" stroke-width="1.2"/>
<text x="0" y="0" font-size="8.0" font-weight="bold" text-anchor="end" fill="#000" transform="translate(45.00 471.65) scale(1 1.16)">50</text>
<line x1="46.00" y1="441.12" x2="49.60" y2="441.12" stroke="#000" stroke-width="1.2"/>
<text x="0" y="0" font-size="8.0" font-weight="bold" text-anchor="end" fill="#000" transform="translate(45.00 444.02) scale(1 1.16)">75</text>
<line x1="46.00" y1="413.50" x2="49.60" y2="413.50" stroke="#000" stroke-width="1.2"/>
<text x="0" y="0" font-size="8.0" font-weight="bold" text-anchor="end" fill="#000" transform="translate(45.00 416.40) scale(1 1.16)">100</text>
<line x1="48.70" y1="524.00" x2="225.10" y2="524.00" stroke="#000" stroke-width="1.9"/>
<line x1="49.60" y1="524.00" x2="49.60" y2="527.20" stroke="#000" stroke-width="1.2"/>
<text x="0" y="0" font-size="8.0" font-weight="bold" text-anchor="middle" fill="#000" transform="translate(49.60 536.00) scale(1 1.16)">0</text>
<line x1="93.22" y1="524.00" x2="93.22" y2="527.20" stroke="#000" stroke-width="1.2"/>
<text x="0" y="0" font-size="8.0" font-weight="bold" text-anchor="middle" fill="#000" transform="translate(93.22 536.00) scale(1 1.16)">25</text>
<line x1="136.85" y1="524.00" x2="136.85" y2="527.20" stroke="#000" stroke-width="1.2"/>
<text x="0" y="0" font-size="8.0" font-weight="bold" text-anchor="middle" fill="#000" transform="translate(136.85 536.00) scale(1 1.16)">50</text>
<line x1="180.47" y1="524.00" x2="180.47" y2="527.20" stroke="#000" stroke-width="1.2"/>
<text x="0" y="0" font-size="8.0" font-weight="bold" text-anchor="middle" fill="#000" transform="translate(180.47 536.00) scale(1 1.16)">75</text>
<line x1="224.10" y1="524.00" x2="224.10" y2="527.20" stroke="#000" stroke-width="1.2"/>
<text x="0" y="0" font-size="8.0" font-weight="bold" text-anchor="middle" fill="#000" transform="translate(224.10 536.00) scale(1 1.16)">100</text>
<text x="136.25" y="547.80" font-size="9.2" font-weight="bold" text-anchor="middle" fill="#000">[d]</text>
<text x="26.20" y="468.50" font-size="9.0" font-weight="bold" text-anchor="middle" fill="#000" transform="rotate(-90 26.200000000000003 468.5)">Percent survival</text>
<line x1="299.80" y1="413.00" x2="299.80" y2="524.90" stroke="#000" stroke-width="1.9"/>
<line x1="296.20" y1="524.00" x2="299.80" y2="524.00" stroke="#000" stroke-width="1.2"/>
<text x="0" y="0" font-size="8.0" font-weight="bold" text-anchor="end" fill="#000" transform="translate(295.20 526.90) scale(1 1.16)">0</text>
<line x1="296.20" y1="496.38" x2="299.80" y2="496.38" stroke="#000" stroke-width="1.2"/>
<text x="0" y="0" font-size="8.0" font-weight="bold" text-anchor="end" fill="#000" transform="translate(295.20 499.27) scale(1 1.16)">25</text>
<line x1="296.20" y1="468.75" x2="299.80" y2="468.75" stroke="#000" stroke-width="1.2"/>
<text x="0" y="0" font-size="8.0" font-weight="bold" text-anchor="end" fill="#000" transform="translate(295.20 471.65) scale(1 1.16)">50</text>
<line x1="296.20" y1="441.12" x2="299.80" y2="441.12" stroke="#000" stroke-width="1.2"/>
<text x="0" y="0" font-size="8.0" font-weight="bold" text-anchor="end" fill="#000" transform="translate(295.20 444.02) scale(1 1.16)">75</text>
<line x1="296.20" y1="413.50" x2="299.80" y2="413.50" stroke="#000" stroke-width="1.2"/>
<text x="0" y="0" font-size="8.0" font-weight="bold" text-anchor="end" fill="#000" transform="translate(295.20 416.40) scale(1 1.16)">100</text>
<line x1="298.90" y1="524.00" x2="475.30" y2="524.00" stroke="#000" stroke-width="1.9"/>
<line x1="299.80" y1="524.00" x2="299.80" y2="527.20" stroke="#000" stroke-width="1.2"/>
<text x="0" y="0" font-size="8.0" font-weight="bold" text-anchor="middle" fill="#000" transform="translate(299.80 536.00) scale(1 1.16)">0</text>
<line x1="343.43" y1="524.00" x2="343.43" y2="527.20" stroke="#000" stroke-width="1.2"/>
<text x="0" y="0" font-size="8.0" font-weight="bold" text-anchor="middle" fill="#000" transform="translate(343.43 536.00) scale(1 1.16)">25</text>
<line x1="387.05" y1="524.00" x2="387.05" y2="527.20" stroke="#000" stroke-width="1.2"/>
<text x="0" y="0" font-size="8.0" font-weight="bold" text-anchor="middle" fill="#000" transform="translate(387.05 536.00) scale(1 1.16)">50</text>
<line x1="430.68" y1="524.00" x2="430.68" y2="527.20" stroke="#000" stroke-width="1.2"/>
<text x="0" y="0" font-size="8.0" font-weight="bold" text-anchor="middle" fill="#000" transform="translate(430.68 536.00) scale(1 1.16)">75</text>
<line x1="474.30" y1="524.00" x2="474.30" y2="527.20" stroke="#000" stroke-width="1.2"/>
<text x="0" y="0" font-size="8.0" font-weight="bold" text-anchor="middle" fill="#000" transform="translate(474.30 536.00) scale(1 1.16)">100</text>
<text x="386.45" y="547.80" font-size="9.2" font-weight="bold" text-anchor="middle" fill="#000">[d]</text>
<text x="277.80" y="468.50" font-size="9.0" font-weight="bold" text-anchor="middle" fill="#000" transform="rotate(-90 277.8 468.5)">Percent survival</text>
<line x1="175.00" y1="416.70" x2="189.40" y2="416.70" stroke="#000" stroke-width="1.2"/>
<rect x="180.00" y="414.40" width="4.60" height="4.60" fill="#000"/>
<text x="193.60" y="419.50" font-size="7.8" font-weight="bold" text-anchor="start" fill="#000">40 &#215; 10<tspan dy="-2.6" font-size="5.4">6</tspan></text>
<line x1="175.00" y1="425.40" x2="189.40" y2="425.40" stroke="#000" stroke-width="1.2"/>
<polygon points="182.30,422.80 179.80,427.40 184.80,427.40" fill="#000"/>
<text x="193.60" y="428.20" font-size="7.8" font-weight="bold" text-anchor="start" fill="#000">20 &#215; 10<tspan dy="-2.6" font-size="5.4">6</tspan></text>
<line x1="175.00" y1="434.10" x2="189.40" y2="434.10" stroke="#000" stroke-width="1.2"/>
<polygon points="182.30,436.40 180.00,432.10 184.60,432.10" fill="#fff" stroke="#000" stroke-width="0.8"/>
<text x="193.60" y="436.90" font-size="7.8" font-weight="bold" text-anchor="start" fill="#000">10 &#215; 10<tspan dy="-2.6" font-size="5.4">6</tspan></text>
<line x1="175.00" y1="442.80" x2="189.40" y2="442.80" stroke="#000" stroke-width="1.2"/>
<polygon points="182.30,440.50 184.60,442.80 182.30,445.10 180.00,442.80" fill="#fff" stroke="#000" stroke-width="0.8"/>
<text x="193.60" y="445.60" font-size="7.8" font-weight="bold" text-anchor="start" fill="#000">&#160; 5 &#215; 10<tspan dy="-2.6" font-size="5.4">6</tspan></text>
<line x1="175.00" y1="451.50" x2="189.40" y2="451.50" stroke="#000" stroke-width="1.2"/>
<line x1="182.30" y1="449.20" x2="182.30" y2="453.80" stroke="#000" stroke-width="0.8"/>
<line x1="184.29" y1="450.35" x2="180.31" y2="452.65" stroke="#000" stroke-width="0.8"/>
<line x1="184.29" y1="452.65" x2="180.31" y2="450.35" stroke="#000" stroke-width="0.8"/>
<text x="193.60" y="454.30" font-size="7.8" font-weight="bold" text-anchor="start" fill="#000">PBS</text>
<line x1="425.00" y1="416.70" x2="439.40" y2="416.70" stroke="#000" stroke-width="1.2"/>
<rect x="430.00" y="414.40" width="4.60" height="4.60" fill="#000"/>
<text x="443.60" y="419.50" font-size="7.8" font-weight="bold" text-anchor="start" fill="#000">40 &#215; 10<tspan dy="-2.6" font-size="5.4">6</tspan></text>
<line x1="425.00" y1="425.40" x2="439.40" y2="425.40" stroke="#000" stroke-width="1.2"/>
<polygon points="432.30,422.80 429.80,427.40 434.80,427.40" fill="#000"/>
<text x="443.60" y="428.20" font-size="7.8" font-weight="bold" text-anchor="start" fill="#000">20 &#215; 10<tspan dy="-2.6" font-size="5.4">6</tspan></text>
<line x1="425.00" y1="434.10" x2="439.40" y2="434.10" stroke="#000" stroke-width="1.2"/>
<polygon points="432.30,436.40 430.00,432.10 434.60,432.10" fill="#fff" stroke="#000" stroke-width="0.8"/>
<text x="443.60" y="436.90" font-size="7.8" font-weight="bold" text-anchor="start" fill="#000">10 &#215; 10<tspan dy="-2.6" font-size="5.4">6</tspan></text>
<line x1="425.00" y1="442.80" x2="439.40" y2="442.80" stroke="#000" stroke-width="1.2"/>
<polygon points="432.30,440.50 434.60,442.80 432.30,445.10 430.00,442.80" fill="#fff" stroke="#000" stroke-width="0.8"/>
<text x="443.60" y="445.60" font-size="7.8" font-weight="bold" text-anchor="start" fill="#000">&#160; 5 &#215; 10<tspan dy="-2.6" font-size="5.4">6</tspan></text>
<line x1="425.00" y1="451.50" x2="439.40" y2="451.50" stroke="#000" stroke-width="1.2"/>
<line x1="432.30" y1="449.20" x2="432.30" y2="453.80" stroke="#000" stroke-width="0.8"/>
<line x1="434.29" y1="450.35" x2="430.31" y2="452.65" stroke="#000" stroke-width="0.8"/>
<line x1="434.29" y1="452.65" x2="430.31" y2="450.35" stroke="#000" stroke-width="0.8"/>
<text x="443.60" y="454.30" font-size="7.8" font-weight="bold" text-anchor="start" fill="#000">PBS</text>
<polyline points="49.60,413.50 94.97,413.50 94.97,425.77 98.11,425.77 98.11,438.03 100.21,438.03 100.21,450.30 105.44,450.30 105.44,474.94 108.06,474.94 108.06,487.20 110.33,487.20 110.33,499.47 122.19,499.47 122.19,511.73 224.10,511.73" stroke="#000" stroke-width="1.2" fill="none" stroke-linejoin="round"/>
<polyline points="49.60,413.50 94.97,413.50 94.97,425.77 96.72,425.77 96.72,450.30 99.33,450.30 99.33,474.94 108.93,474.94 108.93,487.20 130.74,487.20 130.74,499.47 224.10,499.47" stroke="#000" stroke-width="1.2" fill="none" stroke-linejoin="round"/>
<polyline points="49.60,413.50 94.97,413.50 94.97,425.77 96.72,425.77 96.72,450.30 99.33,450.30 99.33,474.94 106.31,474.94 106.31,487.20 109.80,487.20 109.80,499.47 112.77,499.47 112.77,511.73 114.34,511.73 114.34,524.00" stroke="#000" stroke-width="1.2" fill="none" stroke-linejoin="round"/>
<polyline points="49.60,413.50 105.44,413.50 105.44,425.77 110.15,425.77 110.15,438.03 117.48,438.03 117.48,474.94 141.91,474.94 141.91,487.20 143.48,487.20 143.48,499.47 153.95,499.47 153.95,511.73 224.10,511.73" stroke="#000" stroke-width="1.2" fill="none" stroke-linejoin="round"/>
<polyline points="49.60,413.50 105.44,413.50 105.44,425.77 112.42,425.77 112.42,450.30 120.62,450.30 120.62,462.56 224.10,462.56" stroke="#000" stroke-width="1.2" fill="none" stroke-linejoin="round"/>
<polygon points="94.97,423.27 97.47,425.77 94.97,428.27 92.47,425.77" fill="#fff" stroke="#000" stroke-width="0.8"/>
<polygon points="98.11,435.53 100.61,438.03 98.11,440.53 95.61,438.03" fill="#fff" stroke="#000" stroke-width="0.8"/>
<polygon points="100.21,447.80 102.71,450.30 100.21,452.80 97.71,450.30" fill="#fff" stroke="#000" stroke-width="0.8"/>
<polygon points="105.44,472.44 107.94,474.94 105.44,477.44 102.94,474.94" fill="#fff" stroke="#000" stroke-width="0.8"/>
<polygon points="108.06,484.70 110.56,487.20 108.06,489.70 105.56,487.20" fill="#fff" stroke="#000" stroke-width="0.8"/>
<polygon points="110.33,496.97 112.83,499.47 110.33,501.97 107.83,499.47" fill="#fff" stroke="#000" stroke-width="0.8"/>
<polygon points="122.19,509.23 124.69,511.73 122.19,514.23 119.69,511.73" fill="#fff" stroke="#000" stroke-width="0.8"/>
<polygon points="224.10,509.23 226.60,511.73 224.10,514.23 221.60,511.73" fill="#fff" stroke="#000" stroke-width="0.8"/>
<polygon points="94.97,428.27 92.47,423.57 97.47,423.57" fill="#fff" stroke="#000" stroke-width="0.8"/>
<polygon points="96.72,452.80 94.22,448.10 99.22,448.10" fill="#fff" stroke="#000" stroke-width="0.8"/>
<polygon points="99.33,477.44 96.83,472.74 101.83,472.74" fill="#fff" stroke="#000" stroke-width="0.8"/>
<polygon points="108.93,489.70 106.43,485.00 111.43,485.00" fill="#fff" stroke="#000" stroke-width="0.8"/>
<polygon points="130.74,501.97 128.24,497.27 133.24,497.27" fill="#fff" stroke="#000" stroke-width="0.8"/>
<polygon points="224.10,501.97 221.60,497.27 226.60,497.27" fill="#fff" stroke="#000" stroke-width="0.8"/>
<line x1="94.97" y1="423.27" x2="94.97" y2="428.27" stroke="#000" stroke-width="0.8"/>
<line x1="97.14" y1="424.52" x2="92.80" y2="427.02" stroke="#000" stroke-width="0.8"/>
<line x1="97.14" y1="427.02" x2="92.80" y2="424.52" stroke="#000" stroke-width="0.8"/>
<line x1="96.72" y1="447.80" x2="96.72" y2="452.80" stroke="#000" stroke-width="0.8"/>
<line x1="98.88" y1="449.05" x2="94.55" y2="451.55" stroke="#000" stroke-width="0.8"/>
<line x1="98.88" y1="451.55" x2="94.55" y2="449.05" stroke="#000" stroke-width="0.8"/>
<line x1="99.33" y1="472.44" x2="99.33" y2="477.44" stroke="#000" stroke-width="0.8"/>
<line x1="101.50" y1="473.69" x2="97.17" y2="476.19" stroke="#000" stroke-width="0.8"/>
<line x1="101.50" y1="476.19" x2="97.17" y2="473.69" stroke="#000" stroke-width="0.8"/>
<line x1="106.31" y1="484.70" x2="106.31" y2="489.70" stroke="#000" stroke-width="0.8"/>
<line x1="108.48" y1="485.95" x2="104.15" y2="488.45" stroke="#000" stroke-width="0.8"/>
<line x1="108.48" y1="488.45" x2="104.15" y2="485.95" stroke="#000" stroke-width="0.8"/>
<line x1="109.80" y1="496.97" x2="109.80" y2="501.97" stroke="#000" stroke-width="0.8"/>
<line x1="111.97" y1="498.22" x2="107.64" y2="500.72" stroke="#000" stroke-width="0.8"/>
<line x1="111.97" y1="500.72" x2="107.64" y2="498.22" stroke="#000" stroke-width="0.8"/>
<line x1="112.77" y1="509.23" x2="112.77" y2="514.23" stroke="#000" stroke-width="0.8"/>
<line x1="114.93" y1="510.48" x2="110.60" y2="512.98" stroke="#000" stroke-width="0.8"/>
<line x1="114.93" y1="512.98" x2="110.60" y2="510.48" stroke="#000" stroke-width="0.8"/>
<line x1="114.34" y1="521.50" x2="114.34" y2="526.50" stroke="#000" stroke-width="0.8"/>
<line x1="116.50" y1="522.75" x2="112.17" y2="525.25" stroke="#000" stroke-width="0.8"/>
<line x1="116.50" y1="525.25" x2="112.17" y2="522.75" stroke="#000" stroke-width="0.8"/>
<polygon points="105.44,422.97 102.74,427.97 108.14,427.97" fill="#000"/>
<polygon points="110.15,435.23 107.45,440.23 112.85,440.23" fill="#000"/>
<polygon points="117.48,472.14 114.78,477.14 120.18,477.14" fill="#000"/>
<polygon points="141.91,484.40 139.21,489.40 144.61,489.40" fill="#000"/>
<polygon points="143.48,496.67 140.78,501.67 146.18,501.67" fill="#000"/>
<polygon points="153.95,508.93 151.25,513.93 156.65,513.93" fill="#000"/>
<polygon points="224.10,508.93 221.40,513.93 226.80,513.93" fill="#000"/>
<rect x="102.94" y="423.27" width="5.00" height="5.00" fill="#000"/>
<rect x="109.92" y="447.80" width="5.00" height="5.00" fill="#000"/>
<rect x="118.12" y="460.06" width="5.00" height="5.00" fill="#000"/>
<rect x="221.60" y="460.06" width="5.00" height="5.00" fill="#000"/>
<polyline points="299.80,413.50 343.77,413.50 343.77,425.77 346.92,425.77 346.92,450.30 354.77,450.30 354.77,474.94 355.29,474.94 355.29,487.20 358.78,487.20 358.78,499.47 361.75,499.47 361.75,511.73 369.60,511.73 369.60,524.00" stroke="#000" stroke-width="1.2" fill="none" stroke-linejoin="round"/>
<polyline points="299.80,413.50 345.17,413.50 345.17,425.77 346.39,425.77 346.39,438.03 347.79,438.03 347.79,462.56 355.64,462.56 355.64,474.94 360.88,474.94 360.88,487.20 364.37,487.20 364.37,499.47 369.60,499.47 369.60,511.73 373.09,511.73 373.09,524.00" stroke="#000" stroke-width="1.2" fill="none" stroke-linejoin="round"/>
<polyline points="299.80,413.50 346.04,413.50 346.04,425.77 348.66,425.77 348.66,450.30 355.64,450.30 355.64,462.56 360.88,462.56 360.88,487.20 364.37,487.20 364.37,499.47 366.98,499.47 366.98,511.73 372.22,511.73 372.22,524.00" stroke="#000" stroke-width="1.2" fill="none" stroke-linejoin="round"/>
<polyline points="299.80,413.50 348.66,413.50 348.66,425.77 357.38,425.77 357.38,450.30 360.00,450.30 360.00,462.56 362.62,462.56 362.62,474.94 364.37,474.94 364.37,487.20 366.11,487.20 366.11,499.47 367.86,499.47 367.86,511.73 371.35,511.73 371.35,524.00" stroke="#000" stroke-width="1.2" fill="none" stroke-linejoin="round"/>
<polyline points="299.80,413.50 349.88,413.50 349.88,425.77 356.16,425.77 356.16,438.03 357.91,438.03 357.91,450.30 363.67,450.30 363.67,462.56 368.73,462.56 368.73,499.47 399.26,499.47 399.26,511.73 416.72,511.73 416.72,524.00" stroke="#000" stroke-width="1.2" fill="none" stroke-linejoin="round"/>
<polygon points="343.77,423.27 346.27,425.77 343.77,428.27 341.27,425.77" fill="#fff" stroke="#000" stroke-width="0.8"/>
<polygon points="346.92,447.80 349.42,450.30 346.92,452.80 344.42,450.30" fill="#fff" stroke="#000" stroke-width="0.8"/>
<polygon points="354.77,472.44 357.27,474.94 354.77,477.44 352.27,474.94" fill="#fff" stroke="#000" stroke-width="0.8"/>
<polygon points="355.29,484.70 357.79,487.20 355.29,489.70 352.79,487.20" fill="#fff" stroke="#000" stroke-width="0.8"/>
<polygon points="358.78,496.97 361.28,499.47 358.78,501.97 356.28,499.47" fill="#fff" stroke="#000" stroke-width="0.8"/>
<polygon points="361.75,509.23 364.25,511.73 361.75,514.23 359.25,511.73" fill="#fff" stroke="#000" stroke-width="0.8"/>
<polygon points="369.60,521.50 372.10,524.00 369.60,526.50 367.10,524.00" fill="#fff" stroke="#000" stroke-width="0.8"/>
<polygon points="345.17,428.27 342.67,423.57 347.67,423.57" fill="#fff" stroke="#000" stroke-width="0.8"/>
<polygon points="346.39,440.53 343.89,435.83 348.89,435.83" fill="#fff" stroke="#000" stroke-width="0.8"/>
<polygon points="347.79,465.06 345.29,460.36 350.29,460.36" fill="#fff" stroke="#000" stroke-width="0.8"/>
<polygon points="355.64,477.44 353.14,472.74 358.14,472.74" fill="#fff" stroke="#000" stroke-width="0.8"/>
<polygon points="360.88,489.70 358.38,485.00 363.38,485.00" fill="#fff" stroke="#000" stroke-width="0.8"/>
<polygon points="364.37,501.97 361.87,497.27 366.87,497.27" fill="#fff" stroke="#000" stroke-width="0.8"/>
<polygon points="369.60,514.23 367.10,509.53 372.10,509.53" fill="#fff" stroke="#000" stroke-width="0.8"/>
<polygon points="373.09,526.50 370.59,521.80 375.59,521.80" fill="#fff" stroke="#000" stroke-width="0.8"/>
<line x1="346.04" y1="423.27" x2="346.04" y2="428.27" stroke="#000" stroke-width="0.8"/>
<line x1="348.21" y1="424.52" x2="343.88" y2="427.02" stroke="#000" stroke-width="0.8"/>
<line x1="348.21" y1="427.02" x2="343.88" y2="424.52" stroke="#000" stroke-width="0.8"/>
<line x1="348.66" y1="447.80" x2="348.66" y2="452.80" stroke="#000" stroke-width="0.8"/>
<line x1="350.83" y1="449.05" x2="346.49" y2="451.55" stroke="#000" stroke-width="0.8"/>
<line x1="350.83" y1="451.55" x2="346.49" y2="449.05" stroke="#000" stroke-width="0.8"/>
<line x1="355.64" y1="460.06" x2="355.64" y2="465.06" stroke="#000" stroke-width="0.8"/>
<line x1="357.81" y1="461.31" x2="353.47" y2="463.81" stroke="#000" stroke-width="0.8"/>
<line x1="357.81" y1="463.81" x2="353.47" y2="461.31" stroke="#000" stroke-width="0.8"/>
<line x1="360.88" y1="484.70" x2="360.88" y2="489.70" stroke="#000" stroke-width="0.8"/>
<line x1="363.04" y1="485.95" x2="358.71" y2="488.45" stroke="#000" stroke-width="0.8"/>
<line x1="363.04" y1="488.45" x2="358.71" y2="485.95" stroke="#000" stroke-width="0.8"/>
<line x1="364.37" y1="496.97" x2="364.37" y2="501.97" stroke="#000" stroke-width="0.8"/>
<line x1="366.53" y1="498.22" x2="362.20" y2="500.72" stroke="#000" stroke-width="0.8"/>
<line x1="366.53" y1="500.72" x2="362.20" y2="498.22" stroke="#000" stroke-width="0.8"/>
<line x1="366.98" y1="509.23" x2="366.98" y2="514.23" stroke="#000" stroke-width="0.8"/>
<line x1="369.15" y1="510.48" x2="364.82" y2="512.98" stroke="#000" stroke-width="0.8"/>
<line x1="369.15" y1="512.98" x2="364.82" y2="510.48" stroke="#000" stroke-width="0.8"/>
<line x1="372.22" y1="521.50" x2="372.22" y2="526.50" stroke="#000" stroke-width="0.8"/>
<line x1="374.38" y1="522.75" x2="370.05" y2="525.25" stroke="#000" stroke-width="0.8"/>
<line x1="374.38" y1="525.25" x2="370.05" y2="522.75" stroke="#000" stroke-width="0.8"/>
<polygon points="348.66,422.97 345.96,427.97 351.36,427.97" fill="#000"/>
<polygon points="357.38,447.50 354.69,452.50 360.08,452.50" fill="#000"/>
<polygon points="360.00,459.76 357.30,464.76 362.70,464.76" fill="#000"/>
<polygon points="362.62,472.14 359.92,477.14 365.32,477.14" fill="#000"/>
<polygon points="364.37,484.40 361.67,489.40 367.06,489.40" fill="#000"/>
<polygon points="366.11,496.67 363.41,501.67 368.81,501.67" fill="#000"/>
<polygon points="367.86,508.93 365.16,513.93 370.56,513.93" fill="#000"/>
<polygon points="371.35,521.20 368.65,526.20 374.05,526.20" fill="#000"/>
<rect x="347.38" y="423.27" width="5.00" height="5.00" fill="#000"/>
<rect x="353.66" y="435.53" width="5.00" height="5.00" fill="#000"/>
<rect x="355.41" y="447.80" width="5.00" height="5.00" fill="#000"/>
<rect x="361.17" y="460.06" width="5.00" height="5.00" fill="#000"/>
<rect x="366.23" y="496.97" width="5.00" height="5.00" fill="#000"/>
<rect x="396.76" y="509.23" width="5.00" height="5.00" fill="#000"/>
<rect x="414.22" y="521.50" width="5.00" height="5.00" fill="#000"/>
</svg>
</body></html>
